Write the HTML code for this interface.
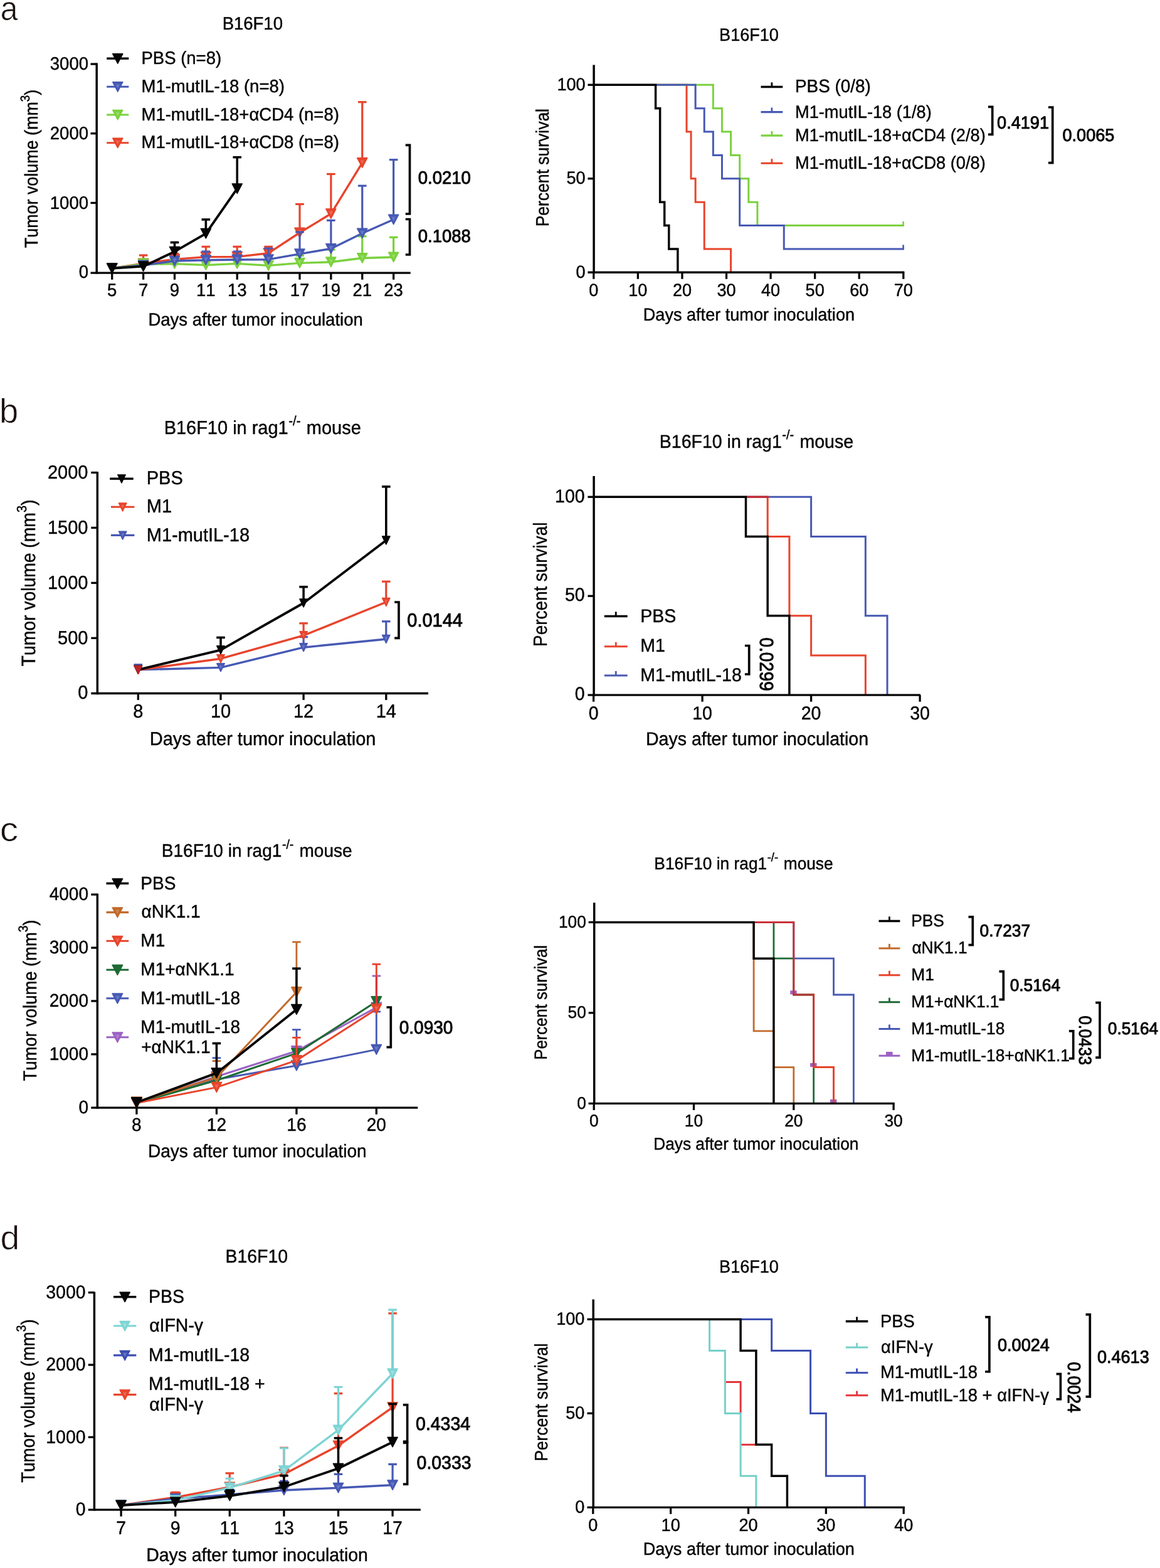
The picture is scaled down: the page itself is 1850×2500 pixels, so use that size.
<!DOCTYPE html>
<html lang="en">
<head>
<meta charset="utf-8">
<title>Figure: tumor volume and survival</title>
<style>
html,body{margin:0;padding:0;background:#fff;}
body{width:1850px;height:2500px;overflow:hidden;}
svg{display:block;}
svg text{font-family:"Liberation Sans", sans-serif;fill:#050505;font-kerning:none;font-variant-ligatures:none;text-rendering:geometricPrecision;}
</style>
</head>
<body>
<svg width="1850" height="2500" viewBox="0 0 1850 2500">
<rect x="0" y="0" width="1850" height="2500" fill="#ffffff"/>
<text transform="translate(0.4 31.8) scale(0.935 1)" font-size="54" text-anchor="start" style="fill:#1a1210" stroke="#ffffff" stroke-width="0.75" stroke-linejoin="miter" stroke-miterlimit="6">a</text>
<text transform="translate(-0.9 674.3) scale(0.995 1)" font-size="54.6" text-anchor="start" style="fill:#1a1210" stroke="#ffffff" stroke-width="0.75" stroke-linejoin="miter" stroke-miterlimit="6">b</text>
<text transform="translate(-0.2 1341.1) scale(1.09 1)" font-size="54" text-anchor="start" style="fill:#1a1210" stroke="#ffffff" stroke-width="0.75" stroke-linejoin="miter" stroke-miterlimit="6">c</text>
<text transform="translate(0.4 1991.9) scale(1.03 1)" font-size="53.6" text-anchor="start" style="fill:#1a1210" stroke="#ffffff" stroke-width="0.75" stroke-linejoin="miter" stroke-miterlimit="6">d</text>
<g id="aL">
<text transform="translate(402.8 46.5) scale(0.963 1)" font-size="28.56" text-anchor="middle" stroke="#050505" stroke-width="0.45" stroke-linejoin="round">B16F10</text>
<text transform="translate(60.2 269) rotate(-90) scale(0.915 1)" font-size="29.38" text-anchor="middle" stroke="#050505" stroke-width="0.45" stroke-linejoin="round">Tumor volume (mm<tspan font-size="20.56" dy="-13.22">3</tspan><tspan dy="13.22">)</tspan></text>
<text transform="translate(407.6 518.5) scale(0.963 1)" font-size="28.56" text-anchor="middle" stroke="#050505" stroke-width="0.45" stroke-linejoin="round">Days after tumor inoculation</text>
<text transform="translate(141 443.44) scale(0.963 1)" font-size="28.56" text-anchor="end" stroke="#050505" stroke-width="0.45" stroke-linejoin="round">0</text>
<text transform="translate(141 332.74) scale(0.963 1)" font-size="28.56" text-anchor="end" stroke="#050505" stroke-width="0.45" stroke-linejoin="round">1000</text>
<text transform="translate(141 222.04) scale(0.963 1)" font-size="28.56" text-anchor="end" stroke="#050505" stroke-width="0.45" stroke-linejoin="round">2000</text>
<text transform="translate(141 111.34) scale(0.963 1)" font-size="28.56" text-anchor="end" stroke="#050505" stroke-width="0.45" stroke-linejoin="round">3000</text>
<text transform="translate(178.7 471.8) scale(0.963 1)" font-size="28.56" text-anchor="middle" stroke="#050505" stroke-width="0.45" stroke-linejoin="round">5</text>
<text transform="translate(228.58 471.8) scale(0.963 1)" font-size="28.56" text-anchor="middle" stroke="#050505" stroke-width="0.45" stroke-linejoin="round">7</text>
<text transform="translate(278.46 471.8) scale(0.963 1)" font-size="28.56" text-anchor="middle" stroke="#050505" stroke-width="0.45" stroke-linejoin="round">9</text>
<text transform="translate(328.34 471.8) scale(0.963 1)" font-size="28.56" text-anchor="middle" stroke="#050505" stroke-width="0.45" stroke-linejoin="round">11</text>
<text transform="translate(378.22 471.8) scale(0.963 1)" font-size="28.56" text-anchor="middle" stroke="#050505" stroke-width="0.45" stroke-linejoin="round">13</text>
<text transform="translate(428.1 471.8) scale(0.963 1)" font-size="28.56" text-anchor="middle" stroke="#050505" stroke-width="0.45" stroke-linejoin="round">15</text>
<text transform="translate(477.98 471.8) scale(0.963 1)" font-size="28.56" text-anchor="middle" stroke="#050505" stroke-width="0.45" stroke-linejoin="round">17</text>
<text transform="translate(527.86 471.8) scale(0.963 1)" font-size="28.56" text-anchor="middle" stroke="#050505" stroke-width="0.45" stroke-linejoin="round">19</text>
<text transform="translate(577.74 471.8) scale(0.963 1)" font-size="28.56" text-anchor="middle" stroke="#050505" stroke-width="0.45" stroke-linejoin="round">21</text>
<text transform="translate(627.62 471.8) scale(0.963 1)" font-size="28.56" text-anchor="middle" stroke="#050505" stroke-width="0.45" stroke-linejoin="round">23</text>
<line x1="228.58" y1="420.2" x2="228.58" y2="407" stroke="#E8442C" stroke-width="3.2" stroke-linecap="butt"/>
<line x1="221.78" y1="407" x2="235.38" y2="407" stroke="#E8442C" stroke-width="3.2" stroke-linecap="butt"/>
<line x1="278.46" y1="413.4" x2="278.46" y2="404.5" stroke="#E8442C" stroke-width="3.2" stroke-linecap="butt"/>
<line x1="271.66" y1="404.5" x2="285.26" y2="404.5" stroke="#E8442C" stroke-width="3.2" stroke-linecap="butt"/>
<line x1="328.34" y1="409.6" x2="328.34" y2="393.3" stroke="#E8442C" stroke-width="3.2" stroke-linecap="butt"/>
<line x1="321.54" y1="393.3" x2="335.14" y2="393.3" stroke="#E8442C" stroke-width="3.2" stroke-linecap="butt"/>
<line x1="378.22" y1="409.4" x2="378.22" y2="393.3" stroke="#E8442C" stroke-width="3.2" stroke-linecap="butt"/>
<line x1="371.42" y1="393.3" x2="385.02" y2="393.3" stroke="#E8442C" stroke-width="3.2" stroke-linecap="butt"/>
<line x1="428.1" y1="403.7" x2="428.1" y2="393.3" stroke="#E8442C" stroke-width="3.2" stroke-linecap="butt"/>
<line x1="421.3" y1="393.3" x2="434.9" y2="393.3" stroke="#E8442C" stroke-width="3.2" stroke-linecap="butt"/>
<line x1="477.98" y1="371" x2="477.98" y2="325.5" stroke="#E8442C" stroke-width="3.2" stroke-linecap="butt"/>
<line x1="471.18" y1="325.5" x2="484.78" y2="325.5" stroke="#E8442C" stroke-width="3.2" stroke-linecap="butt"/>
<line x1="527.86" y1="340.8" x2="527.86" y2="277.5" stroke="#E8442C" stroke-width="3.2" stroke-linecap="butt"/>
<line x1="521.06" y1="277.5" x2="534.66" y2="277.5" stroke="#E8442C" stroke-width="3.2" stroke-linecap="butt"/>
<line x1="577.74" y1="259.6" x2="577.74" y2="162.7" stroke="#E8442C" stroke-width="3.2" stroke-linecap="butt"/>
<line x1="570.94" y1="162.7" x2="584.54" y2="162.7" stroke="#E8442C" stroke-width="3.2" stroke-linecap="butt"/>
<polyline points="178.7,427.8 228.58,420.2 278.46,413.4 328.34,409.6 378.22,409.4 428.1,403.7 477.98,371 527.86,340.8 577.74,259.6" fill="none" stroke="#E8442C" stroke-width="3.4" stroke-linejoin="round" stroke-linecap="butt"/>
<polygon points="170.7,420.06 186.7,420.06 178.7,435.42" fill="#E8442C" stroke="#E8442C" stroke-width="1.6" stroke-linejoin="round"/>
<polygon points="175.5,423.58 181.9,423.58 178.7,430.45" fill="#EE7059" opacity="0.8"/>
<polygon points="220.58,412.46 236.58,412.46 228.58,427.82" fill="#E8442C" stroke="#E8442C" stroke-width="1.6" stroke-linejoin="round"/>
<polygon points="225.38,415.98 231.78,415.98 228.58,422.85" fill="#EE7059" opacity="0.8"/>
<polygon points="270.46,405.66 286.46,405.66 278.46,421.02" fill="#E8442C" stroke="#E8442C" stroke-width="1.6" stroke-linejoin="round"/>
<polygon points="275.26,409.18 281.66,409.18 278.46,416.05" fill="#EE7059" opacity="0.8"/>
<polygon points="320.34,401.86 336.34,401.86 328.34,417.22" fill="#E8442C" stroke="#E8442C" stroke-width="1.6" stroke-linejoin="round"/>
<polygon points="325.14,405.38 331.54,405.38 328.34,412.25" fill="#EE7059" opacity="0.8"/>
<polygon points="370.22,401.66 386.22,401.66 378.22,417.02" fill="#E8442C" stroke="#E8442C" stroke-width="1.6" stroke-linejoin="round"/>
<polygon points="375.02,405.18 381.42,405.18 378.22,412.05" fill="#EE7059" opacity="0.8"/>
<polygon points="420.1,395.96 436.1,395.96 428.1,411.32" fill="#E8442C" stroke="#E8442C" stroke-width="1.6" stroke-linejoin="round"/>
<polygon points="424.9,399.48 431.3,399.48 428.1,406.35" fill="#EE7059" opacity="0.8"/>
<polygon points="469.98,363.26 485.98,363.26 477.98,378.62" fill="#E8442C" stroke="#E8442C" stroke-width="1.6" stroke-linejoin="round"/>
<polygon points="474.78,366.78 481.18,366.78 477.98,373.65" fill="#EE7059" opacity="0.8"/>
<polygon points="519.86,333.06 535.86,333.06 527.86,348.42" fill="#E8442C" stroke="#E8442C" stroke-width="1.6" stroke-linejoin="round"/>
<polygon points="524.66,336.58 531.06,336.58 527.86,343.45" fill="#EE7059" opacity="0.8"/>
<polygon points="569.74,251.86 585.74,251.86 577.74,267.22" fill="#E8442C" stroke="#E8442C" stroke-width="1.6" stroke-linejoin="round"/>
<polygon points="574.54,255.38 580.94,255.38 577.74,262.25" fill="#EE7059" opacity="0.8"/>
<line x1="228.58" y1="421.3" x2="228.58" y2="413" stroke="#7BD13E" stroke-width="3.2" stroke-linecap="butt"/>
<line x1="221.78" y1="413" x2="235.38" y2="413" stroke="#7BD13E" stroke-width="3.2" stroke-linecap="butt"/>
<line x1="477.98" y1="419.4" x2="477.98" y2="407.5" stroke="#7BD13E" stroke-width="3.2" stroke-linecap="butt"/>
<line x1="471.18" y1="407.5" x2="484.78" y2="407.5" stroke="#7BD13E" stroke-width="3.2" stroke-linecap="butt"/>
<line x1="527.86" y1="417.8" x2="527.86" y2="398" stroke="#7BD13E" stroke-width="3.2" stroke-linecap="butt"/>
<line x1="521.06" y1="398" x2="534.66" y2="398" stroke="#7BD13E" stroke-width="3.2" stroke-linecap="butt"/>
<line x1="577.74" y1="411.5" x2="577.74" y2="376.8" stroke="#7BD13E" stroke-width="3.2" stroke-linecap="butt"/>
<line x1="570.94" y1="376.8" x2="584.54" y2="376.8" stroke="#7BD13E" stroke-width="3.2" stroke-linecap="butt"/>
<line x1="627.62" y1="410" x2="627.62" y2="378.3" stroke="#7BD13E" stroke-width="3.2" stroke-linecap="butt"/>
<line x1="620.82" y1="378.3" x2="634.42" y2="378.3" stroke="#7BD13E" stroke-width="3.2" stroke-linecap="butt"/>
<polyline points="178.7,427.8 228.58,421.3 278.46,420.6 328.34,422.6 378.22,420.4 428.1,423.4 477.98,419.4 527.86,417.8 577.74,411.5 627.62,410" fill="none" stroke="#7BD13E" stroke-width="3.4" stroke-linejoin="round" stroke-linecap="butt"/>
<polygon points="170.7,420.06 186.7,420.06 178.7,435.42" fill="#7BD13E" stroke="#7BD13E" stroke-width="1.6" stroke-linejoin="round"/>
<polygon points="175.5,423.58 181.9,423.58 178.7,430.45" fill="#9BDD6C" opacity="0.8"/>
<polygon points="220.58,413.56 236.58,413.56 228.58,428.92" fill="#7BD13E" stroke="#7BD13E" stroke-width="1.6" stroke-linejoin="round"/>
<polygon points="225.38,417.08 231.78,417.08 228.58,423.95" fill="#9BDD6C" opacity="0.8"/>
<polygon points="270.46,412.86 286.46,412.86 278.46,428.22" fill="#7BD13E" stroke="#7BD13E" stroke-width="1.6" stroke-linejoin="round"/>
<polygon points="275.26,416.38 281.66,416.38 278.46,423.25" fill="#9BDD6C" opacity="0.8"/>
<polygon points="320.34,414.86 336.34,414.86 328.34,430.22" fill="#7BD13E" stroke="#7BD13E" stroke-width="1.6" stroke-linejoin="round"/>
<polygon points="325.14,418.38 331.54,418.38 328.34,425.25" fill="#9BDD6C" opacity="0.8"/>
<polygon points="370.22,412.66 386.22,412.66 378.22,428.02" fill="#7BD13E" stroke="#7BD13E" stroke-width="1.6" stroke-linejoin="round"/>
<polygon points="375.02,416.18 381.42,416.18 378.22,423.05" fill="#9BDD6C" opacity="0.8"/>
<polygon points="420.1,415.66 436.1,415.66 428.1,431.02" fill="#7BD13E" stroke="#7BD13E" stroke-width="1.6" stroke-linejoin="round"/>
<polygon points="424.9,419.18 431.3,419.18 428.1,426.05" fill="#9BDD6C" opacity="0.8"/>
<polygon points="469.98,411.66 485.98,411.66 477.98,427.02" fill="#7BD13E" stroke="#7BD13E" stroke-width="1.6" stroke-linejoin="round"/>
<polygon points="474.78,415.18 481.18,415.18 477.98,422.05" fill="#9BDD6C" opacity="0.8"/>
<polygon points="519.86,410.06 535.86,410.06 527.86,425.42" fill="#7BD13E" stroke="#7BD13E" stroke-width="1.6" stroke-linejoin="round"/>
<polygon points="524.66,413.58 531.06,413.58 527.86,420.45" fill="#9BDD6C" opacity="0.8"/>
<polygon points="569.74,403.76 585.74,403.76 577.74,419.12" fill="#7BD13E" stroke="#7BD13E" stroke-width="1.6" stroke-linejoin="round"/>
<polygon points="574.54,407.28 580.94,407.28 577.74,414.15" fill="#9BDD6C" opacity="0.8"/>
<polygon points="619.62,402.26 635.62,402.26 627.62,417.62" fill="#7BD13E" stroke="#7BD13E" stroke-width="1.6" stroke-linejoin="round"/>
<polygon points="624.42,405.78 630.82,405.78 627.62,412.65" fill="#9BDD6C" opacity="0.8"/>
<line x1="328.34" y1="414.7" x2="328.34" y2="401" stroke="#4759B4" stroke-width="3.2" stroke-linecap="butt"/>
<line x1="321.54" y1="401" x2="335.14" y2="401" stroke="#4759B4" stroke-width="3.2" stroke-linecap="butt"/>
<line x1="378.22" y1="414" x2="378.22" y2="401" stroke="#4759B4" stroke-width="3.2" stroke-linecap="butt"/>
<line x1="371.42" y1="401" x2="385.02" y2="401" stroke="#4759B4" stroke-width="3.2" stroke-linecap="butt"/>
<line x1="428.1" y1="413.7" x2="428.1" y2="396" stroke="#4759B4" stroke-width="3.2" stroke-linecap="butt"/>
<line x1="421.3" y1="396" x2="434.9" y2="396" stroke="#4759B4" stroke-width="3.2" stroke-linecap="butt"/>
<line x1="477.98" y1="404.8" x2="477.98" y2="370" stroke="#4759B4" stroke-width="3.2" stroke-linecap="butt"/>
<line x1="471.18" y1="370" x2="484.78" y2="370" stroke="#4759B4" stroke-width="3.2" stroke-linecap="butt"/>
<line x1="527.86" y1="396.5" x2="527.86" y2="351.4" stroke="#4759B4" stroke-width="3.2" stroke-linecap="butt"/>
<line x1="521.06" y1="351.4" x2="534.66" y2="351.4" stroke="#4759B4" stroke-width="3.2" stroke-linecap="butt"/>
<line x1="577.74" y1="372" x2="577.74" y2="296.2" stroke="#4759B4" stroke-width="3.2" stroke-linecap="butt"/>
<line x1="570.94" y1="296.2" x2="584.54" y2="296.2" stroke="#4759B4" stroke-width="3.2" stroke-linecap="butt"/>
<line x1="627.62" y1="350" x2="627.62" y2="254.7" stroke="#4759B4" stroke-width="3.2" stroke-linecap="butt"/>
<line x1="620.82" y1="254.7" x2="634.42" y2="254.7" stroke="#4759B4" stroke-width="3.2" stroke-linecap="butt"/>
<polyline points="178.7,427.8 228.58,423 278.46,416 328.34,414.7 378.22,414 428.1,413.7 477.98,404.8 527.86,396.5 577.74,372 627.62,350" fill="none" stroke="#4759B4" stroke-width="3.4" stroke-linejoin="round" stroke-linecap="butt"/>
<polygon points="170.7,420.06 186.7,420.06 178.7,435.42" fill="#4759B4" stroke="#4759B4" stroke-width="1.6" stroke-linejoin="round"/>
<polygon points="175.5,423.58 181.9,423.58 178.7,430.45" fill="#6F80C8" opacity="0.8"/>
<polygon points="220.58,415.26 236.58,415.26 228.58,430.62" fill="#4759B4" stroke="#4759B4" stroke-width="1.6" stroke-linejoin="round"/>
<polygon points="225.38,418.78 231.78,418.78 228.58,425.65" fill="#6F80C8" opacity="0.8"/>
<polygon points="270.46,408.26 286.46,408.26 278.46,423.62" fill="#4759B4" stroke="#4759B4" stroke-width="1.6" stroke-linejoin="round"/>
<polygon points="275.26,411.78 281.66,411.78 278.46,418.65" fill="#6F80C8" opacity="0.8"/>
<polygon points="320.34,406.96 336.34,406.96 328.34,422.32" fill="#4759B4" stroke="#4759B4" stroke-width="1.6" stroke-linejoin="round"/>
<polygon points="325.14,410.48 331.54,410.48 328.34,417.35" fill="#6F80C8" opacity="0.8"/>
<polygon points="370.22,406.26 386.22,406.26 378.22,421.62" fill="#4759B4" stroke="#4759B4" stroke-width="1.6" stroke-linejoin="round"/>
<polygon points="375.02,409.78 381.42,409.78 378.22,416.65" fill="#6F80C8" opacity="0.8"/>
<polygon points="420.1,405.96 436.1,405.96 428.1,421.32" fill="#4759B4" stroke="#4759B4" stroke-width="1.6" stroke-linejoin="round"/>
<polygon points="424.9,409.48 431.3,409.48 428.1,416.35" fill="#6F80C8" opacity="0.8"/>
<polygon points="469.98,397.06 485.98,397.06 477.98,412.42" fill="#4759B4" stroke="#4759B4" stroke-width="1.6" stroke-linejoin="round"/>
<polygon points="474.78,400.58 481.18,400.58 477.98,407.45" fill="#6F80C8" opacity="0.8"/>
<polygon points="519.86,388.76 535.86,388.76 527.86,404.12" fill="#4759B4" stroke="#4759B4" stroke-width="1.6" stroke-linejoin="round"/>
<polygon points="524.66,392.28 531.06,392.28 527.86,399.15" fill="#6F80C8" opacity="0.8"/>
<polygon points="569.74,364.26 585.74,364.26 577.74,379.62" fill="#4759B4" stroke="#4759B4" stroke-width="1.6" stroke-linejoin="round"/>
<polygon points="574.54,367.78 580.94,367.78 577.74,374.65" fill="#6F80C8" opacity="0.8"/>
<polygon points="619.62,342.26 635.62,342.26 627.62,357.62" fill="#4759B4" stroke="#4759B4" stroke-width="1.6" stroke-linejoin="round"/>
<polygon points="624.42,345.78 630.82,345.78 627.62,352.65" fill="#6F80C8" opacity="0.8"/>
<line x1="278.46" y1="401.2" x2="278.46" y2="386.5" stroke="#050505" stroke-width="3.6" stroke-linecap="butt"/>
<line x1="271.66" y1="386.5" x2="285.26" y2="386.5" stroke="#050505" stroke-width="3.6" stroke-linecap="butt"/>
<line x1="328.34" y1="372.3" x2="328.34" y2="350" stroke="#050505" stroke-width="3.6" stroke-linecap="butt"/>
<line x1="321.54" y1="350" x2="335.14" y2="350" stroke="#050505" stroke-width="3.6" stroke-linecap="butt"/>
<line x1="378.22" y1="300.7" x2="378.22" y2="250.7" stroke="#050505" stroke-width="3.6" stroke-linecap="butt"/>
<line x1="371.42" y1="250.7" x2="385.02" y2="250.7" stroke="#050505" stroke-width="3.6" stroke-linecap="butt"/>
<polyline points="178.7,427.8 228.58,424.7 278.46,401.2 328.34,372.3 378.22,300.7" fill="none" stroke="#050505" stroke-width="3.8" stroke-linejoin="round" stroke-linecap="butt"/>
<polygon points="170.7,420.06 186.7,420.06 178.7,435.42" fill="#050505" stroke="#050505" stroke-width="1.6" stroke-linejoin="round"/>
<polygon points="220.58,416.96 236.58,416.96 228.58,432.32" fill="#050505" stroke="#050505" stroke-width="1.6" stroke-linejoin="round"/>
<polygon points="270.46,393.46 286.46,393.46 278.46,408.82" fill="#050505" stroke="#050505" stroke-width="1.6" stroke-linejoin="round"/>
<polygon points="320.34,364.56 336.34,364.56 328.34,379.92" fill="#050505" stroke="#050505" stroke-width="1.6" stroke-linejoin="round"/>
<polygon points="370.22,292.96 386.22,292.96 378.22,308.32" fill="#050505" stroke="#050505" stroke-width="1.6" stroke-linejoin="round"/>
<line x1="154.2" y1="100.45" x2="154.2" y2="436.85" stroke="#050505" stroke-width="3.5" stroke-linecap="butt"/>
<line x1="144.5" y1="435.2" x2="654.7" y2="435.2" stroke="#050505" stroke-width="3.3" stroke-linecap="butt"/>
<line x1="144.5" y1="323.5" x2="154.2" y2="323.5" stroke="#050505" stroke-width="3.3" stroke-linecap="butt"/>
<line x1="144.5" y1="212.8" x2="154.2" y2="212.8" stroke="#050505" stroke-width="3.3" stroke-linecap="butt"/>
<line x1="144.5" y1="102.1" x2="154.2" y2="102.1" stroke="#050505" stroke-width="3.3" stroke-linecap="butt"/>
<line x1="178.7" y1="435.2" x2="178.7" y2="445.8" stroke="#050505" stroke-width="3.3" stroke-linecap="butt"/>
<line x1="228.58" y1="435.2" x2="228.58" y2="445.8" stroke="#050505" stroke-width="3.3" stroke-linecap="butt"/>
<line x1="278.46" y1="435.2" x2="278.46" y2="445.8" stroke="#050505" stroke-width="3.3" stroke-linecap="butt"/>
<line x1="328.34" y1="435.2" x2="328.34" y2="445.8" stroke="#050505" stroke-width="3.3" stroke-linecap="butt"/>
<line x1="378.22" y1="435.2" x2="378.22" y2="445.8" stroke="#050505" stroke-width="3.3" stroke-linecap="butt"/>
<line x1="428.1" y1="435.2" x2="428.1" y2="445.8" stroke="#050505" stroke-width="3.3" stroke-linecap="butt"/>
<line x1="477.98" y1="435.2" x2="477.98" y2="445.8" stroke="#050505" stroke-width="3.3" stroke-linecap="butt"/>
<line x1="527.86" y1="435.2" x2="527.86" y2="445.8" stroke="#050505" stroke-width="3.3" stroke-linecap="butt"/>
<line x1="577.74" y1="435.2" x2="577.74" y2="445.8" stroke="#050505" stroke-width="3.3" stroke-linecap="butt"/>
<line x1="627.62" y1="435.2" x2="627.62" y2="445.8" stroke="#050505" stroke-width="3.3" stroke-linecap="butt"/>
<line x1="170.2" y1="93.2" x2="205.3" y2="93.2" stroke="#050505" stroke-width="3.5" stroke-linecap="butt"/>
<polygon points="179.75,85.76 195.75,85.76 187.75,101.12" fill="#050505" stroke="#050505" stroke-width="1.6" stroke-linejoin="round"/>
<text transform="translate(225.5 101.8) scale(0.963 1)" font-size="28.56" text-anchor="start" stroke="#050505" stroke-width="0.45" stroke-linejoin="round">PBS (n=8)</text>
<line x1="170.2" y1="138.3" x2="205.3" y2="138.3" stroke="#4759B4" stroke-width="3.1" stroke-linecap="butt"/>
<polygon points="179.75,130.86 195.75,130.86 187.75,146.22" fill="#4759B4" stroke="#4759B4" stroke-width="1.6" stroke-linejoin="round"/>
<polygon points="184.55,134.38 190.95,134.38 187.75,141.25" fill="#6F80C8" opacity="0.8"/>
<text transform="translate(225.5 146.9) scale(0.963 1)" font-size="28.56" text-anchor="start" stroke="#050505" stroke-width="0.45" stroke-linejoin="round">M1-mutIL-18 (n=8)</text>
<line x1="170.2" y1="183" x2="205.3" y2="183" stroke="#7BD13E" stroke-width="3.1" stroke-linecap="butt"/>
<polygon points="179.75,175.56 195.75,175.56 187.75,190.92" fill="#7BD13E" stroke="#7BD13E" stroke-width="1.6" stroke-linejoin="round"/>
<polygon points="184.55,179.08 190.95,179.08 187.75,185.95" fill="#9BDD6C" opacity="0.8"/>
<text transform="translate(225.5 191.6) scale(0.963 1)" font-size="28.56" text-anchor="start" stroke="#050505" stroke-width="0.45" stroke-linejoin="round">M1-mutIL-18+αCD4 (n=8)</text>
<line x1="170.2" y1="227.8" x2="205.3" y2="227.8" stroke="#E8442C" stroke-width="3.1" stroke-linecap="butt"/>
<polygon points="179.75,220.36 195.75,220.36 187.75,235.72" fill="#E8442C" stroke="#E8442C" stroke-width="1.6" stroke-linejoin="round"/>
<polygon points="184.55,223.88 190.95,223.88 187.75,230.75" fill="#EE7059" opacity="0.8"/>
<text transform="translate(225.5 236.4) scale(0.963 1)" font-size="28.56" text-anchor="start" stroke="#050505" stroke-width="0.45" stroke-linejoin="round">M1-mutIL-18+αCD8 (n=8)</text>
<polyline points="646.7,231.4 653.5,231.4 653.5,341 646.7,341" fill="none" stroke="#050505" stroke-width="3.7" stroke-linejoin="miter" stroke-linecap="butt"/>
<polyline points="646.7,349.5 653.5,349.5 653.5,406 646.7,406" fill="none" stroke="#050505" stroke-width="3.7" stroke-linejoin="miter" stroke-linecap="butt"/>
<text transform="translate(666.8 293) scale(0.963 1)" font-size="28.56" text-anchor="start" stroke="#050505" stroke-width="0.95" stroke-linejoin="round">0.0210</text>
<text transform="translate(666.8 386.3) scale(0.963 1)" font-size="28.56" text-anchor="start" stroke="#050505" stroke-width="0.95" stroke-linejoin="round">0.1088</text>
</g>
<g id="aR">
<text transform="translate(1194.5 64.5) scale(0.963 1)" font-size="28.14" text-anchor="middle" stroke="#050505" stroke-width="0.45" stroke-linejoin="round">B16F10</text>
<text transform="translate(875.4 267.2) rotate(-90) scale(0.915 1)" font-size="28.94" text-anchor="middle" stroke="#050505" stroke-width="0.45" stroke-linejoin="round">Percent survival</text>
<text transform="translate(1194.4 510.9) scale(0.963 1)" font-size="28.14" text-anchor="middle" stroke="#050505" stroke-width="0.45" stroke-linejoin="round">Days after tumor inoculation</text>
<text transform="translate(933.6 442.64) scale(0.963 1)" font-size="28.14" text-anchor="end" stroke="#050505" stroke-width="0.45" stroke-linejoin="round">0</text>
<text transform="translate(933.6 293.17) scale(0.963 1)" font-size="28.14" text-anchor="end" stroke="#050505" stroke-width="0.45" stroke-linejoin="round">50</text>
<text transform="translate(933.6 143.69) scale(0.963 1)" font-size="28.14" text-anchor="end" stroke="#050505" stroke-width="0.45" stroke-linejoin="round">100</text>
<text transform="translate(946.8 472) scale(0.963 1)" font-size="28.14" text-anchor="middle" stroke="#050505" stroke-width="0.45" stroke-linejoin="round">0</text>
<text transform="translate(1017.37 472) scale(0.963 1)" font-size="28.14" text-anchor="middle" stroke="#050505" stroke-width="0.45" stroke-linejoin="round">10</text>
<text transform="translate(1087.94 472) scale(0.963 1)" font-size="28.14" text-anchor="middle" stroke="#050505" stroke-width="0.45" stroke-linejoin="round">20</text>
<text transform="translate(1158.51 472) scale(0.963 1)" font-size="28.14" text-anchor="middle" stroke="#050505" stroke-width="0.45" stroke-linejoin="round">30</text>
<text transform="translate(1229.08 472) scale(0.963 1)" font-size="28.14" text-anchor="middle" stroke="#050505" stroke-width="0.45" stroke-linejoin="round">40</text>
<text transform="translate(1299.65 472) scale(0.963 1)" font-size="28.14" text-anchor="middle" stroke="#050505" stroke-width="0.45" stroke-linejoin="round">50</text>
<text transform="translate(1370.22 472) scale(0.963 1)" font-size="28.14" text-anchor="middle" stroke="#050505" stroke-width="0.45" stroke-linejoin="round">60</text>
<text transform="translate(1440.79 472) scale(0.963 1)" font-size="28.14" text-anchor="middle" stroke="#050505" stroke-width="0.45" stroke-linejoin="round">70</text>
<polyline points="1047.72,135.3 1095,135.3 1095,210.04 1102.05,210.04 1102.05,284.77 1109.11,284.77 1109.11,322.14 1123.22,322.14 1123.22,396.88 1165.57,396.88 1165.57,434.25" fill="none" stroke="#E8442C" stroke-width="3" stroke-linejoin="miter" stroke-linecap="butt"/>
<polyline points="1047.72,135.3 1137.34,135.3 1137.34,172.67 1151.45,172.67 1151.45,210.04 1165.57,210.04 1165.57,247.41 1179.68,247.41 1179.68,284.77 1193.8,284.77 1193.8,322.14 1207.91,322.14 1207.91,359.51 1440.79,359.51" fill="none" stroke="#7BD13E" stroke-width="3" stroke-linejoin="miter" stroke-linecap="butt"/>
<line x1="1440.59" y1="361.01" x2="1440.59" y2="353.01" stroke="#7BD13E" stroke-width="2.6" stroke-linecap="butt"/>
<polyline points="1047.01,135.3 1109.11,135.3 1109.11,172.67 1123.22,172.67 1123.22,210.04 1137.34,210.04 1137.34,247.41 1151.45,247.41 1151.45,284.77 1179.68,284.77 1179.68,359.51 1250.25,359.51 1250.25,396.88 1440.79,396.88" fill="none" stroke="#4759B4" stroke-width="3" stroke-linejoin="miter" stroke-linecap="butt"/>
<line x1="1440.59" y1="398.38" x2="1440.59" y2="390.38" stroke="#4759B4" stroke-width="2.6" stroke-linecap="butt"/>
<polyline points="946.8,135.3 1045.6,135.3 1045.6,172.67 1052.65,172.67 1052.65,322.14 1059.71,322.14 1059.71,359.51 1066.77,359.51 1066.77,396.88 1080.88,396.88 1080.88,434.25" fill="none" stroke="#050505" stroke-width="3.5" stroke-linejoin="miter" stroke-linecap="butt"/>
<line x1="947.1" y1="103.55" x2="947.1" y2="435.9" stroke="#050505" stroke-width="3.5" stroke-linecap="butt"/>
<line x1="937.4" y1="434.25" x2="1442.3" y2="434.25" stroke="#050505" stroke-width="3.3" stroke-linecap="butt"/>
<line x1="937.4" y1="284.77" x2="947.1" y2="284.77" stroke="#050505" stroke-width="3.3" stroke-linecap="butt"/>
<line x1="937.4" y1="135.3" x2="947.1" y2="135.3" stroke="#050505" stroke-width="3.3" stroke-linecap="butt"/>
<line x1="946.8" y1="434.25" x2="946.8" y2="444.85" stroke="#050505" stroke-width="3.3" stroke-linecap="butt"/>
<line x1="1017.37" y1="434.25" x2="1017.37" y2="444.85" stroke="#050505" stroke-width="3.3" stroke-linecap="butt"/>
<line x1="1087.94" y1="434.25" x2="1087.94" y2="444.85" stroke="#050505" stroke-width="3.3" stroke-linecap="butt"/>
<line x1="1158.51" y1="434.25" x2="1158.51" y2="444.85" stroke="#050505" stroke-width="3.3" stroke-linecap="butt"/>
<line x1="1229.08" y1="434.25" x2="1229.08" y2="444.85" stroke="#050505" stroke-width="3.3" stroke-linecap="butt"/>
<line x1="1299.65" y1="434.25" x2="1299.65" y2="444.85" stroke="#050505" stroke-width="3.3" stroke-linecap="butt"/>
<line x1="1370.22" y1="434.25" x2="1370.22" y2="444.85" stroke="#050505" stroke-width="3.3" stroke-linecap="butt"/>
<line x1="1440.79" y1="434.25" x2="1440.79" y2="444.85" stroke="#050505" stroke-width="3.3" stroke-linecap="butt"/>
<line x1="1213.5" y1="138.6" x2="1248.3" y2="138.6" stroke="#050505" stroke-width="3.5" stroke-linecap="butt"/>
<line x1="1230.9" y1="138.6" x2="1230.9" y2="131.35" stroke="#050505" stroke-width="2.8" stroke-linecap="butt"/>
<text transform="translate(1268 147.4) scale(0.963 1)" font-size="28.93" text-anchor="start" stroke="#050505" stroke-width="0.45" stroke-linejoin="round">PBS (0/8)</text>
<line x1="1213.5" y1="178.6" x2="1248.3" y2="178.6" stroke="#4759B4" stroke-width="3.1" stroke-linecap="butt"/>
<line x1="1230.9" y1="178.6" x2="1230.9" y2="171.55" stroke="#4759B4" stroke-width="2.8" stroke-linecap="butt"/>
<text transform="translate(1268 187.7) scale(0.963 1)" font-size="28.25" text-anchor="start" stroke="#050505" stroke-width="0.45" stroke-linejoin="round">M1-mutIL-18 (1/8)</text>
<line x1="1213.5" y1="216.1" x2="1248.3" y2="216.1" stroke="#7BD13E" stroke-width="3.1" stroke-linecap="butt"/>
<line x1="1230.9" y1="216.1" x2="1230.9" y2="209.05" stroke="#7BD13E" stroke-width="2.8" stroke-linecap="butt"/>
<text transform="translate(1268 224.9) scale(0.963 1)" font-size="28.25" text-anchor="start" stroke="#050505" stroke-width="0.45" stroke-linejoin="round">M1-mutIL-18+αCD4 (2/8)</text>
<line x1="1213.5" y1="260.3" x2="1248.3" y2="260.3" stroke="#E8442C" stroke-width="3.1" stroke-linecap="butt"/>
<line x1="1230.9" y1="260.3" x2="1230.9" y2="253.25" stroke="#E8442C" stroke-width="2.8" stroke-linecap="butt"/>
<text transform="translate(1268 269.4) scale(0.963 1)" font-size="28.25" text-anchor="start" stroke="#050505" stroke-width="0.45" stroke-linejoin="round">M1-mutIL-18+αCD8 (0/8)</text>
<polyline points="1575.9,170.4 1582.7,170.4 1582.7,214.3 1575.9,214.3" fill="none" stroke="#050505" stroke-width="3.7" stroke-linejoin="miter" stroke-linecap="butt"/>
<text transform="translate(1590.1 204.9) scale(0.963 1)" font-size="28.14" text-anchor="start" stroke="#050505" stroke-width="0.95" stroke-linejoin="round">0.4191</text>
<polyline points="1671.9,171 1678.7,171 1678.7,259.7 1671.9,259.7" fill="none" stroke="#050505" stroke-width="3.7" stroke-linejoin="miter" stroke-linecap="butt"/>
<text transform="translate(1694.5 224.6) scale(0.963 1)" font-size="28.14" text-anchor="start" stroke="#050505" stroke-width="0.95" stroke-linejoin="round">0.0065</text>
</g>
<g id="bL">
<text transform="translate(418.7 692) scale(0.963 1)" font-size="30.08" text-anchor="middle" stroke="#050505" stroke-width="0.45" stroke-linejoin="round">B16F10 in rag1<tspan font-size="21.06" dy="-13.54" dx="0.6">-/-</tspan><tspan dy="13.54" dx="1.4"> mouse</tspan></text>
<text transform="translate(55.5 929.5) rotate(-90) scale(0.915 1)" font-size="30.94" text-anchor="middle" stroke="#050505" stroke-width="0.45" stroke-linejoin="round">Tumor volume (mm<tspan font-size="21.66" dy="-13.92">3</tspan><tspan dy="13.92">)</tspan></text>
<text transform="translate(419.1 1187.5) scale(0.963 1)" font-size="30.08" text-anchor="middle" stroke="#050505" stroke-width="0.45" stroke-linejoin="round">Days after tumor inoculation</text>
<text transform="translate(140.4 1114.46) scale(0.963 1)" font-size="30.08" text-anchor="end" stroke="#050505" stroke-width="0.45" stroke-linejoin="round">0</text>
<text transform="translate(140.4 1026.51) scale(0.963 1)" font-size="30.08" text-anchor="end" stroke="#050505" stroke-width="0.45" stroke-linejoin="round">500</text>
<text transform="translate(140.4 938.56) scale(0.963 1)" font-size="30.08" text-anchor="end" stroke="#050505" stroke-width="0.45" stroke-linejoin="round">1000</text>
<text transform="translate(140.4 850.61) scale(0.963 1)" font-size="30.08" text-anchor="end" stroke="#050505" stroke-width="0.45" stroke-linejoin="round">1500</text>
<text transform="translate(140.4 762.66) scale(0.963 1)" font-size="30.08" text-anchor="end" stroke="#050505" stroke-width="0.45" stroke-linejoin="round">2000</text>
<text transform="translate(220.3 1143.6) scale(0.963 1)" font-size="30.08" text-anchor="middle" stroke="#050505" stroke-width="0.45" stroke-linejoin="round">8</text>
<text transform="translate(352 1143.6) scale(0.963 1)" font-size="30.08" text-anchor="middle" stroke="#050505" stroke-width="0.45" stroke-linejoin="round">10</text>
<text transform="translate(484.1 1143.6) scale(0.963 1)" font-size="30.08" text-anchor="middle" stroke="#050505" stroke-width="0.45" stroke-linejoin="round">12</text>
<text transform="translate(615.8 1143.6) scale(0.963 1)" font-size="30.08" text-anchor="middle" stroke="#050505" stroke-width="0.45" stroke-linejoin="round">14</text>
<line x1="220.3" y1="1067.8" x2="220.3" y2="1059.8" stroke="#4759B4" stroke-width="3.2" stroke-linecap="butt"/>
<line x1="213.5" y1="1059.8" x2="227.1" y2="1059.8" stroke="#4759B4" stroke-width="3.2" stroke-linecap="butt"/>
<line x1="484.1" y1="1032.2" x2="484.1" y2="1015.6" stroke="#4759B4" stroke-width="3.2" stroke-linecap="butt"/>
<line x1="477.3" y1="1015.6" x2="490.9" y2="1015.6" stroke="#4759B4" stroke-width="3.2" stroke-linecap="butt"/>
<line x1="615.8" y1="1019" x2="615.8" y2="990.8" stroke="#4759B4" stroke-width="3.2" stroke-linecap="butt"/>
<line x1="609" y1="990.8" x2="622.6" y2="990.8" stroke="#4759B4" stroke-width="3.2" stroke-linecap="butt"/>
<polyline points="220.3,1067.8 352,1064.4 484.1,1032.2 615.8,1019" fill="none" stroke="#4759B4" stroke-width="3.4" stroke-linejoin="round" stroke-linecap="butt"/>
<polygon points="214.15,1061.28 226.45,1061.28 220.3,1074.14" fill="#4759B4" stroke="#4759B4" stroke-width="1.6" stroke-linejoin="round"/>
<polygon points="217.84,1064.3 222.76,1064.3 220.3,1070.19" fill="#6F80C8" opacity="0.8"/>
<polygon points="345.85,1057.88 358.15,1057.88 352,1070.74" fill="#4759B4" stroke="#4759B4" stroke-width="1.6" stroke-linejoin="round"/>
<polygon points="349.54,1060.9 354.46,1060.9 352,1066.79" fill="#6F80C8" opacity="0.8"/>
<polygon points="477.95,1025.68 490.25,1025.68 484.1,1038.54" fill="#4759B4" stroke="#4759B4" stroke-width="1.6" stroke-linejoin="round"/>
<polygon points="481.64,1028.7 486.56,1028.7 484.1,1034.59" fill="#6F80C8" opacity="0.8"/>
<polygon points="609.65,1012.48 621.95,1012.48 615.8,1025.34" fill="#4759B4" stroke="#4759B4" stroke-width="1.6" stroke-linejoin="round"/>
<polygon points="613.34,1015.5 618.26,1015.5 615.8,1021.39" fill="#6F80C8" opacity="0.8"/>
<line x1="484.1" y1="1013.2" x2="484.1" y2="993.8" stroke="#E8442C" stroke-width="3.2" stroke-linecap="butt"/>
<line x1="477.3" y1="993.8" x2="490.9" y2="993.8" stroke="#E8442C" stroke-width="3.2" stroke-linecap="butt"/>
<line x1="615.8" y1="960" x2="615.8" y2="927.2" stroke="#E8442C" stroke-width="3.2" stroke-linecap="butt"/>
<line x1="609" y1="927.2" x2="622.6" y2="927.2" stroke="#E8442C" stroke-width="3.2" stroke-linecap="butt"/>
<polyline points="220.3,1068 352,1050.2 484.1,1013.2 615.8,960" fill="none" stroke="#E8442C" stroke-width="3.4" stroke-linejoin="round" stroke-linecap="butt"/>
<polygon points="214.15,1061.48 226.45,1061.48 220.3,1074.34" fill="#E8442C" stroke="#E8442C" stroke-width="1.6" stroke-linejoin="round"/>
<polygon points="217.84,1064.5 222.76,1064.5 220.3,1070.39" fill="#EE7059" opacity="0.8"/>
<polygon points="345.85,1043.68 358.15,1043.68 352,1056.54" fill="#E8442C" stroke="#E8442C" stroke-width="1.6" stroke-linejoin="round"/>
<polygon points="349.54,1046.7 354.46,1046.7 352,1052.59" fill="#EE7059" opacity="0.8"/>
<polygon points="477.95,1006.68 490.25,1006.68 484.1,1019.54" fill="#E8442C" stroke="#E8442C" stroke-width="1.6" stroke-linejoin="round"/>
<polygon points="481.64,1009.7 486.56,1009.7 484.1,1015.59" fill="#EE7059" opacity="0.8"/>
<polygon points="609.65,953.48 621.95,953.48 615.8,966.34" fill="#E8442C" stroke="#E8442C" stroke-width="1.6" stroke-linejoin="round"/>
<polygon points="613.34,956.5 618.26,956.5 615.8,962.39" fill="#EE7059" opacity="0.8"/>
<line x1="352" y1="1036.3" x2="352" y2="1016.5" stroke="#050505" stroke-width="3.6" stroke-linecap="butt"/>
<line x1="345.2" y1="1016.5" x2="358.8" y2="1016.5" stroke="#050505" stroke-width="3.6" stroke-linecap="butt"/>
<line x1="484.1" y1="961.5" x2="484.1" y2="935.7" stroke="#050505" stroke-width="3.6" stroke-linecap="butt"/>
<line x1="477.3" y1="935.7" x2="490.9" y2="935.7" stroke="#050505" stroke-width="3.6" stroke-linecap="butt"/>
<line x1="615.8" y1="861.6" x2="615.8" y2="775.9" stroke="#050505" stroke-width="3.6" stroke-linecap="butt"/>
<line x1="609" y1="775.9" x2="622.6" y2="775.9" stroke="#050505" stroke-width="3.6" stroke-linecap="butt"/>
<polyline points="220.3,1067.8 352,1036.3 484.1,961.5 615.8,861.6" fill="none" stroke="#050505" stroke-width="3.8" stroke-linejoin="round" stroke-linecap="butt"/>
<polygon points="214.15,1061.28 226.45,1061.28 220.3,1074.14" fill="#050505" stroke="#050505" stroke-width="1.6" stroke-linejoin="round"/>
<polygon points="345.85,1029.78 358.15,1029.78 352,1042.64" fill="#050505" stroke="#050505" stroke-width="1.6" stroke-linejoin="round"/>
<polygon points="477.95,954.98 490.25,954.98 484.1,967.84" fill="#050505" stroke="#050505" stroke-width="1.6" stroke-linejoin="round"/>
<polygon points="609.65,855.08 621.95,855.08 615.8,867.94" fill="#050505" stroke="#050505" stroke-width="1.6" stroke-linejoin="round"/>
<polygon points="214.15,1061.48 226.45,1061.48 220.3,1074.34" fill="#B8252B" stroke="#B8252B" stroke-width="1.6" stroke-linejoin="round"/>
<line x1="155.3" y1="752.25" x2="155.3" y2="1107.15" stroke="#050505" stroke-width="3.5" stroke-linecap="butt"/>
<line x1="145.3" y1="1105.5" x2="683" y2="1105.5" stroke="#050505" stroke-width="3.3" stroke-linecap="butt"/>
<line x1="145.3" y1="1017.35" x2="155.3" y2="1017.35" stroke="#050505" stroke-width="3.3" stroke-linecap="butt"/>
<line x1="145.3" y1="929.4" x2="155.3" y2="929.4" stroke="#050505" stroke-width="3.3" stroke-linecap="butt"/>
<line x1="145.3" y1="841.45" x2="155.3" y2="841.45" stroke="#050505" stroke-width="3.3" stroke-linecap="butt"/>
<line x1="145.3" y1="753.5" x2="155.3" y2="753.5" stroke="#050505" stroke-width="3.3" stroke-linecap="butt"/>
<line x1="220.3" y1="1105.5" x2="220.3" y2="1116.1" stroke="#050505" stroke-width="3.3" stroke-linecap="butt"/>
<line x1="352" y1="1105.5" x2="352" y2="1116.1" stroke="#050505" stroke-width="3.3" stroke-linecap="butt"/>
<line x1="484.1" y1="1105.5" x2="484.1" y2="1116.1" stroke="#050505" stroke-width="3.3" stroke-linecap="butt"/>
<line x1="615.8" y1="1105.5" x2="615.8" y2="1116.1" stroke="#050505" stroke-width="3.3" stroke-linecap="butt"/>
<line x1="175.2" y1="763.2" x2="212.7" y2="763.2" stroke="#050505" stroke-width="3.5" stroke-linecap="butt"/>
<polygon points="187.8,756.98 200.1,756.98 193.95,769.84" fill="#050505" stroke="#050505" stroke-width="1.6" stroke-linejoin="round"/>
<text transform="translate(233.8 772.2) scale(0.963 1)" font-size="30.08" text-anchor="start" stroke="#050505" stroke-width="0.45" stroke-linejoin="round">PBS</text>
<line x1="176.9" y1="808.3" x2="214.4" y2="808.3" stroke="#E8442C" stroke-width="3.1" stroke-linecap="butt"/>
<polygon points="189.5,802.08 201.8,802.08 195.65,814.94" fill="#E8442C" stroke="#E8442C" stroke-width="1.6" stroke-linejoin="round"/>
<polygon points="193.19,805.1 198.11,805.1 195.65,810.99" fill="#EE7059" opacity="0.8"/>
<text transform="translate(233.8 817.3) scale(0.963 1)" font-size="30.08" text-anchor="start" stroke="#050505" stroke-width="0.45" stroke-linejoin="round">M1</text>
<line x1="176.9" y1="853.4" x2="214.4" y2="853.4" stroke="#4759B4" stroke-width="3.1" stroke-linecap="butt"/>
<polygon points="189.5,847.18 201.8,847.18 195.65,860.04" fill="#4759B4" stroke="#4759B4" stroke-width="1.6" stroke-linejoin="round"/>
<polygon points="193.19,850.2 198.11,850.2 195.65,856.09" fill="#6F80C8" opacity="0.8"/>
<text transform="translate(233.8 862.7) scale(0.963 1)" font-size="30.08" text-anchor="start" stroke="#050505" stroke-width="0.45" stroke-linejoin="round">M1-mutIL-18</text>
<polyline points="629.2,960 636,960 636,1017.4 629.2,1017.4" fill="none" stroke="#050505" stroke-width="3.7" stroke-linejoin="miter" stroke-linecap="butt"/>
<text transform="translate(649.3 999.3) scale(0.963 1)" font-size="30.08" text-anchor="start" stroke="#050505" stroke-width="0.95" stroke-linejoin="round">0.0144</text>
</g>
<g id="bR">
<text transform="translate(1206.4 713.6) scale(0.963 1)" font-size="29.61" text-anchor="middle" stroke="#050505" stroke-width="0.45" stroke-linejoin="round">B16F10 in rag1<tspan font-size="20.73" dy="-13.32" dx="0.6">-/-</tspan><tspan dy="13.32" dx="1.4"> mouse</tspan></text>
<text transform="translate(871.5 931.8) rotate(-90) scale(0.915 1)" font-size="30.46" text-anchor="middle" stroke="#050505" stroke-width="0.45" stroke-linejoin="round">Percent survival</text>
<text transform="translate(1207.5 1187.5) scale(0.963 1)" font-size="29.61" text-anchor="middle" stroke="#050505" stroke-width="0.45" stroke-linejoin="round">Days after tumor inoculation</text>
<text transform="translate(932.7 1116.4) scale(0.963 1)" font-size="29.61" text-anchor="end" stroke="#050505" stroke-width="0.45" stroke-linejoin="round">0</text>
<text transform="translate(932.7 958.45) scale(0.963 1)" font-size="29.61" text-anchor="end" stroke="#050505" stroke-width="0.45" stroke-linejoin="round">50</text>
<text transform="translate(932.7 800.5) scale(0.963 1)" font-size="29.61" text-anchor="end" stroke="#050505" stroke-width="0.45" stroke-linejoin="round">100</text>
<text transform="translate(946.6 1146.7) scale(0.963 1)" font-size="29.61" text-anchor="middle" stroke="#050505" stroke-width="0.45" stroke-linejoin="round">0</text>
<text transform="translate(1120.1 1146.7) scale(0.963 1)" font-size="29.61" text-anchor="middle" stroke="#050505" stroke-width="0.45" stroke-linejoin="round">10</text>
<text transform="translate(1293.6 1146.7) scale(0.963 1)" font-size="29.61" text-anchor="middle" stroke="#050505" stroke-width="0.45" stroke-linejoin="round">20</text>
<text transform="translate(1467.1 1146.7) scale(0.963 1)" font-size="29.61" text-anchor="middle" stroke="#050505" stroke-width="0.45" stroke-linejoin="round">30</text>
<polyline points="1191.24,792.3 1293.6,792.3 1293.6,855.48 1380.35,855.48 1380.35,981.84 1415.05,981.84 1415.05,1108.2" fill="none" stroke="#4759B4" stroke-width="3" stroke-linejoin="miter" stroke-linecap="butt"/>
<polyline points="1191.24,792.3 1224.2,792.3 1224.2,855.48 1258.9,855.48 1258.9,981.84 1293.6,981.84 1293.6,1045.02 1380.35,1045.02 1380.35,1108.2" fill="none" stroke="#E8442C" stroke-width="3" stroke-linejoin="miter" stroke-linecap="butt"/>
<line x1="1189.5" y1="792.3" x2="1225.7" y2="792.3" stroke="#C02A33" stroke-width="3" stroke-linecap="butt"/>
<polyline points="946.6,792.3 1189.5,792.3 1189.5,855.48 1224.2,855.48 1224.2,981.84 1258.9,981.84 1258.9,1108.2" fill="none" stroke="#050505" stroke-width="3.5" stroke-linejoin="miter" stroke-linecap="butt"/>
<line x1="947.1" y1="759.05" x2="947.1" y2="1109.85" stroke="#050505" stroke-width="3.5" stroke-linecap="butt"/>
<line x1="937.4" y1="1108.2" x2="1467.9" y2="1108.2" stroke="#050505" stroke-width="3.3" stroke-linecap="butt"/>
<line x1="937.4" y1="950.25" x2="947.1" y2="950.25" stroke="#050505" stroke-width="3.3" stroke-linecap="butt"/>
<line x1="937.4" y1="792.3" x2="947.1" y2="792.3" stroke="#050505" stroke-width="3.3" stroke-linecap="butt"/>
<line x1="946.6" y1="1108.2" x2="946.6" y2="1118.8" stroke="#050505" stroke-width="3.3" stroke-linecap="butt"/>
<line x1="1120.1" y1="1108.2" x2="1120.1" y2="1118.8" stroke="#050505" stroke-width="3.3" stroke-linecap="butt"/>
<line x1="1293.6" y1="1108.2" x2="1293.6" y2="1118.8" stroke="#050505" stroke-width="3.3" stroke-linecap="butt"/>
<line x1="1467.1" y1="1108.2" x2="1467.1" y2="1118.8" stroke="#050505" stroke-width="3.3" stroke-linecap="butt"/>
<line x1="963.8" y1="982.6" x2="1000.7" y2="982.6" stroke="#050505" stroke-width="3.5" stroke-linecap="butt"/>
<line x1="982.25" y1="982.6" x2="982.25" y2="975.35" stroke="#050505" stroke-width="2.8" stroke-linecap="butt"/>
<text transform="translate(1021.2 991.7) scale(0.963 1)" font-size="29.61" text-anchor="start" stroke="#050505" stroke-width="0.45" stroke-linejoin="round">PBS</text>
<line x1="963.8" y1="1030.8" x2="1000.7" y2="1030.8" stroke="#E8442C" stroke-width="3.1" stroke-linecap="butt"/>
<line x1="982.25" y1="1030.8" x2="982.25" y2="1023.75" stroke="#E8442C" stroke-width="2.8" stroke-linecap="butt"/>
<text transform="translate(1021.2 1039.2) scale(0.963 1)" font-size="29.61" text-anchor="start" stroke="#050505" stroke-width="0.45" stroke-linejoin="round">M1</text>
<line x1="963.8" y1="1077" x2="1000.7" y2="1077" stroke="#4759B4" stroke-width="3.1" stroke-linecap="butt"/>
<line x1="982.25" y1="1077" x2="982.25" y2="1069.95" stroke="#4759B4" stroke-width="2.8" stroke-linecap="butt"/>
<text transform="translate(1021.2 1085.5) scale(0.963 1)" font-size="29.61" text-anchor="start" stroke="#050505" stroke-width="0.45" stroke-linejoin="round">M1-mutIL-18</text>
<polyline points="1187.9,1029.5 1194.7,1029.5 1194.7,1075 1187.9,1075" fill="none" stroke="#050505" stroke-width="3.7" stroke-linejoin="miter" stroke-linecap="butt"/>
<text transform="translate(1212 1016.4) rotate(90) scale(0.915 1)" font-size="30.46" text-anchor="start" stroke="#050505" stroke-width="0.95" stroke-linejoin="round">0.0299</text>
</g>
<g id="cL">
<text transform="translate(409.7 1366.3) scale(0.963 1)" font-size="29.09" text-anchor="middle" stroke="#050505" stroke-width="0.45" stroke-linejoin="round">B16F10 in rag1<tspan font-size="20.36" dy="-13.09" dx="0.6">-/-</tspan><tspan dy="13.09" dx="1.4"> mouse</tspan></text>
<text transform="translate(57.5 1595) rotate(-90) scale(0.915 1)" font-size="29.92" text-anchor="middle" stroke="#050505" stroke-width="0.45" stroke-linejoin="round">Tumor volume (mm<tspan font-size="20.94" dy="-13.46">3</tspan><tspan dy="13.46">)</tspan></text>
<text transform="translate(410.3 1845.1) scale(0.963 1)" font-size="29.09" text-anchor="middle" stroke="#050505" stroke-width="0.45" stroke-linejoin="round">Days after tumor inoculation</text>
<text transform="translate(141 1774.62) scale(0.963 1)" font-size="29.09" text-anchor="end" stroke="#050505" stroke-width="0.45" stroke-linejoin="round">0</text>
<text transform="translate(141 1689.72) scale(0.963 1)" font-size="29.09" text-anchor="end" stroke="#050505" stroke-width="0.45" stroke-linejoin="round">1000</text>
<text transform="translate(141 1604.82) scale(0.963 1)" font-size="29.09" text-anchor="end" stroke="#050505" stroke-width="0.45" stroke-linejoin="round">2000</text>
<text transform="translate(141 1519.92) scale(0.963 1)" font-size="29.09" text-anchor="end" stroke="#050505" stroke-width="0.45" stroke-linejoin="round">3000</text>
<text transform="translate(141 1435.02) scale(0.963 1)" font-size="29.09" text-anchor="end" stroke="#050505" stroke-width="0.45" stroke-linejoin="round">4000</text>
<text transform="translate(217.9 1802.7) scale(0.963 1)" font-size="29.09" text-anchor="middle" stroke="#050505" stroke-width="0.45" stroke-linejoin="round">8</text>
<text transform="translate(345.4 1802.7) scale(0.963 1)" font-size="29.09" text-anchor="middle" stroke="#050505" stroke-width="0.45" stroke-linejoin="round">12</text>
<text transform="translate(472.9 1802.7) scale(0.963 1)" font-size="29.09" text-anchor="middle" stroke="#050505" stroke-width="0.45" stroke-linejoin="round">16</text>
<text transform="translate(600.3 1802.7) scale(0.963 1)" font-size="29.09" text-anchor="middle" stroke="#050505" stroke-width="0.45" stroke-linejoin="round">20</text>
<line x1="472.9" y1="1675.8" x2="472.9" y2="1670.5" stroke="#9B62C4" stroke-width="2.8" stroke-linecap="butt"/>
<line x1="466.1" y1="1670.5" x2="479.7" y2="1670.5" stroke="#9B62C4" stroke-width="2.8" stroke-linecap="butt"/>
<line x1="600.3" y1="1606.3" x2="600.3" y2="1556" stroke="#9B62C4" stroke-width="2.8" stroke-linecap="butt"/>
<line x1="593.5" y1="1556" x2="607.1" y2="1556" stroke="#9B62C4" stroke-width="2.8" stroke-linecap="butt"/>
<polyline points="217.9,1758.6 345.4,1716.5 472.9,1675.8 600.3,1606.3" fill="none" stroke="#9B62C4" stroke-width="3" stroke-linejoin="round" stroke-linecap="butt"/>
<polygon points="209.7,1750.67 226.1,1750.67 217.9,1766.43" fill="#9B62C4" stroke="#9B62C4" stroke-width="1.6" stroke-linejoin="round"/>
<polygon points="214.62,1754.27 221.18,1754.27 217.9,1761.29" fill="#B287D3" opacity="0.8"/>
<polygon points="337.2,1708.57 353.6,1708.57 345.4,1724.33" fill="#9B62C4" stroke="#9B62C4" stroke-width="1.6" stroke-linejoin="round"/>
<polygon points="342.12,1712.17 348.68,1712.17 345.4,1719.19" fill="#B287D3" opacity="0.8"/>
<polygon points="464.7,1667.87 481.1,1667.87 472.9,1683.63" fill="#9B62C4" stroke="#9B62C4" stroke-width="1.6" stroke-linejoin="round"/>
<polygon points="469.62,1671.47 476.18,1671.47 472.9,1678.49" fill="#B287D3" opacity="0.8"/>
<polygon points="592.1,1598.37 608.5,1598.37 600.3,1614.13" fill="#9B62C4" stroke="#9B62C4" stroke-width="1.6" stroke-linejoin="round"/>
<polygon points="597.02,1601.97 603.58,1601.97 600.3,1608.99" fill="#B287D3" opacity="0.8"/>
<line x1="345.4" y1="1721" x2="345.4" y2="1686.8" stroke="#4759B4" stroke-width="2.8" stroke-linecap="butt"/>
<line x1="338.6" y1="1686.8" x2="352.2" y2="1686.8" stroke="#4759B4" stroke-width="2.8" stroke-linecap="butt"/>
<line x1="472.9" y1="1699" x2="472.9" y2="1641.7" stroke="#4759B4" stroke-width="2.8" stroke-linecap="butt"/>
<line x1="466.1" y1="1641.7" x2="479.7" y2="1641.7" stroke="#4759B4" stroke-width="2.8" stroke-linecap="butt"/>
<line x1="600.3" y1="1673.4" x2="600.3" y2="1613" stroke="#4759B4" stroke-width="2.8" stroke-linecap="butt"/>
<line x1="593.5" y1="1613" x2="607.1" y2="1613" stroke="#4759B4" stroke-width="2.8" stroke-linecap="butt"/>
<polyline points="217.9,1758.6 345.4,1721 472.9,1699 600.3,1673.4" fill="none" stroke="#4759B4" stroke-width="3" stroke-linejoin="round" stroke-linecap="butt"/>
<polygon points="209.7,1750.67 226.1,1750.67 217.9,1766.43" fill="#4759B4" stroke="#4759B4" stroke-width="1.6" stroke-linejoin="round"/>
<polygon points="214.62,1754.27 221.18,1754.27 217.9,1761.29" fill="#6F80C8" opacity="0.8"/>
<polygon points="337.2,1713.07 353.6,1713.07 345.4,1728.83" fill="#4759B4" stroke="#4759B4" stroke-width="1.6" stroke-linejoin="round"/>
<polygon points="342.12,1716.67 348.68,1716.67 345.4,1723.69" fill="#6F80C8" opacity="0.8"/>
<polygon points="464.7,1691.07 481.1,1691.07 472.9,1706.83" fill="#4759B4" stroke="#4759B4" stroke-width="1.6" stroke-linejoin="round"/>
<polygon points="469.62,1694.67 476.18,1694.67 472.9,1701.69" fill="#6F80C8" opacity="0.8"/>
<polygon points="592.1,1665.47 608.5,1665.47 600.3,1681.23" fill="#4759B4" stroke="#4759B4" stroke-width="1.6" stroke-linejoin="round"/>
<polygon points="597.02,1669.07 603.58,1669.07 600.3,1676.09" fill="#6F80C8" opacity="0.8"/>
<polyline points="217.9,1758.6 345.4,1722.5 472.9,1679.4 600.3,1596.8" fill="none" stroke="#1E6A35" stroke-width="3" stroke-linejoin="round" stroke-linecap="butt"/>
<polygon points="209.7,1750.67 226.1,1750.67 217.9,1766.43" fill="#1E6A35" stroke="#1E6A35" stroke-width="1.6" stroke-linejoin="round"/>
<polygon points="337.2,1714.57 353.6,1714.57 345.4,1730.33" fill="#1E6A35" stroke="#1E6A35" stroke-width="1.6" stroke-linejoin="round"/>
<polygon points="464.7,1671.47 481.1,1671.47 472.9,1687.23" fill="#1E6A35" stroke="#1E6A35" stroke-width="1.6" stroke-linejoin="round"/>
<polygon points="592.1,1588.87 608.5,1588.87 600.3,1604.63" fill="#1E6A35" stroke="#1E6A35" stroke-width="1.6" stroke-linejoin="round"/>
<line x1="472.9" y1="1690.7" x2="472.9" y2="1654.4" stroke="#E8442C" stroke-width="2.8" stroke-linecap="butt"/>
<line x1="466.1" y1="1654.4" x2="479.7" y2="1654.4" stroke="#E8442C" stroke-width="2.8" stroke-linecap="butt"/>
<line x1="600.3" y1="1608.9" x2="600.3" y2="1537.3" stroke="#E8442C" stroke-width="2.8" stroke-linecap="butt"/>
<line x1="593.5" y1="1537.3" x2="607.1" y2="1537.3" stroke="#E8442C" stroke-width="2.8" stroke-linecap="butt"/>
<polyline points="217.9,1758.6 345.4,1733.6 472.9,1690.7 600.3,1608.9" fill="none" stroke="#E8442C" stroke-width="3" stroke-linejoin="round" stroke-linecap="butt"/>
<polygon points="209.7,1750.67 226.1,1750.67 217.9,1766.43" fill="#E8442C" stroke="#E8442C" stroke-width="1.6" stroke-linejoin="round"/>
<polygon points="214.62,1754.27 221.18,1754.27 217.9,1761.29" fill="#EE7059" opacity="0.8"/>
<polygon points="337.2,1725.67 353.6,1725.67 345.4,1741.43" fill="#E8442C" stroke="#E8442C" stroke-width="1.6" stroke-linejoin="round"/>
<polygon points="342.12,1729.27 348.68,1729.27 345.4,1736.29" fill="#EE7059" opacity="0.8"/>
<polygon points="464.7,1682.77 481.1,1682.77 472.9,1698.53" fill="#E8442C" stroke="#E8442C" stroke-width="1.6" stroke-linejoin="round"/>
<polygon points="469.62,1686.37 476.18,1686.37 472.9,1693.39" fill="#EE7059" opacity="0.8"/>
<polygon points="592.1,1600.97 608.5,1600.97 600.3,1616.73" fill="#E8442C" stroke="#E8442C" stroke-width="1.6" stroke-linejoin="round"/>
<polygon points="597.02,1604.57 603.58,1604.57 600.3,1611.59" fill="#EE7059" opacity="0.8"/>
<line x1="600.3" y1="1557.5" x2="600.3" y2="1598" stroke="#D8323A" stroke-width="2.9" stroke-linecap="butt"/>
<line x1="345.4" y1="1718" x2="345.4" y2="1691.6" stroke="#C26A2A" stroke-width="2.8" stroke-linecap="butt"/>
<line x1="338.6" y1="1691.6" x2="352.2" y2="1691.6" stroke="#C26A2A" stroke-width="2.8" stroke-linecap="butt"/>
<line x1="472.9" y1="1581.8" x2="472.9" y2="1501.9" stroke="#C26A2A" stroke-width="2.8" stroke-linecap="butt"/>
<line x1="466.1" y1="1501.9" x2="479.7" y2="1501.9" stroke="#C26A2A" stroke-width="2.8" stroke-linecap="butt"/>
<polyline points="217.9,1757 345.4,1718 472.9,1581.8" fill="none" stroke="#C26A2A" stroke-width="3" stroke-linejoin="round" stroke-linecap="butt"/>
<polygon points="209.7,1749.07 226.1,1749.07 217.9,1764.83" fill="#C26A2A" stroke="#C26A2A" stroke-width="1.6" stroke-linejoin="round"/>
<polygon points="214.62,1752.67 221.18,1752.67 217.9,1759.69" fill="#D08A55" opacity="0.8"/>
<polygon points="337.2,1710.07 353.6,1710.07 345.4,1725.83" fill="#C26A2A" stroke="#C26A2A" stroke-width="1.6" stroke-linejoin="round"/>
<polygon points="342.12,1713.67 348.68,1713.67 345.4,1720.69" fill="#D08A55" opacity="0.8"/>
<polygon points="464.7,1573.87 481.1,1573.87 472.9,1589.63" fill="#C26A2A" stroke="#C26A2A" stroke-width="1.6" stroke-linejoin="round"/>
<polygon points="469.62,1577.47 476.18,1577.47 472.9,1584.49" fill="#D08A55" opacity="0.8"/>
<line x1="345.4" y1="1710.9" x2="345.4" y2="1663.5" stroke="#050505" stroke-width="3.6" stroke-linecap="butt"/>
<line x1="338.6" y1="1663.5" x2="352.2" y2="1663.5" stroke="#050505" stroke-width="3.6" stroke-linecap="butt"/>
<line x1="472.9" y1="1609.5" x2="472.9" y2="1544.2" stroke="#050505" stroke-width="3.6" stroke-linecap="butt"/>
<line x1="466.1" y1="1544.2" x2="479.7" y2="1544.2" stroke="#050505" stroke-width="3.6" stroke-linecap="butt"/>
<polyline points="217.9,1757.8 345.4,1710.9 472.9,1609.5" fill="none" stroke="#050505" stroke-width="3.8" stroke-linejoin="round" stroke-linecap="butt"/>
<polygon points="209.7,1749.87 226.1,1749.87 217.9,1765.63" fill="#050505" stroke="#050505" stroke-width="1.6" stroke-linejoin="round"/>
<polygon points="337.2,1702.97 353.6,1702.97 345.4,1718.73" fill="#050505" stroke="#050505" stroke-width="1.6" stroke-linejoin="round"/>
<polygon points="464.7,1601.57 481.1,1601.57 472.9,1617.33" fill="#050505" stroke="#050505" stroke-width="1.6" stroke-linejoin="round"/>
<line x1="155.3" y1="1424.85" x2="155.3" y2="1767.85" stroke="#050505" stroke-width="3.5" stroke-linecap="butt"/>
<line x1="145.3" y1="1766.2" x2="666.3" y2="1766.2" stroke="#050505" stroke-width="3.3" stroke-linecap="butt"/>
<line x1="145.3" y1="1680.9" x2="155.3" y2="1680.9" stroke="#050505" stroke-width="3.3" stroke-linecap="butt"/>
<line x1="145.3" y1="1596" x2="155.3" y2="1596" stroke="#050505" stroke-width="3.3" stroke-linecap="butt"/>
<line x1="145.3" y1="1511.1" x2="155.3" y2="1511.1" stroke="#050505" stroke-width="3.3" stroke-linecap="butt"/>
<line x1="145.3" y1="1426.2" x2="155.3" y2="1426.2" stroke="#050505" stroke-width="3.3" stroke-linecap="butt"/>
<line x1="217.9" y1="1766.2" x2="217.9" y2="1776.8" stroke="#050505" stroke-width="3.3" stroke-linecap="butt"/>
<line x1="345.4" y1="1766.2" x2="345.4" y2="1776.8" stroke="#050505" stroke-width="3.3" stroke-linecap="butt"/>
<line x1="472.9" y1="1766.2" x2="472.9" y2="1776.8" stroke="#050505" stroke-width="3.3" stroke-linecap="butt"/>
<line x1="600.3" y1="1766.2" x2="600.3" y2="1776.8" stroke="#050505" stroke-width="3.3" stroke-linecap="butt"/>
<line x1="169.5" y1="1408.6" x2="205.2" y2="1408.6" stroke="#050505" stroke-width="3.5" stroke-linecap="butt"/>
<polygon points="179.15,1400.97 195.55,1400.97 187.35,1416.73" fill="#050505" stroke="#050505" stroke-width="1.6" stroke-linejoin="round"/>
<text transform="translate(224.3 1417.7) scale(0.963 1)" font-size="29.09" text-anchor="start" stroke="#050505" stroke-width="0.45" stroke-linejoin="round">PBS</text>
<line x1="169.5" y1="1454.6" x2="205.2" y2="1454.6" stroke="#C26A2A" stroke-width="3.1" stroke-linecap="butt"/>
<polygon points="179.15,1446.97 195.55,1446.97 187.35,1462.73" fill="#C26A2A" stroke="#C26A2A" stroke-width="1.6" stroke-linejoin="round"/>
<polygon points="184.07,1450.57 190.63,1450.57 187.35,1457.59" fill="#D08A55" opacity="0.8"/>
<text transform="translate(225.6 1463.4) scale(0.963 1)" font-size="29.09" text-anchor="start" stroke="#050505" stroke-width="0.45" stroke-linejoin="round">αNK1.1</text>
<line x1="169.5" y1="1500.3" x2="205.2" y2="1500.3" stroke="#E8442C" stroke-width="3.1" stroke-linecap="butt"/>
<polygon points="179.15,1492.67 195.55,1492.67 187.35,1508.43" fill="#E8442C" stroke="#E8442C" stroke-width="1.6" stroke-linejoin="round"/>
<polygon points="184.07,1496.27 190.63,1496.27 187.35,1503.29" fill="#EE7059" opacity="0.8"/>
<text transform="translate(224.3 1509.1) scale(0.963 1)" font-size="29.09" text-anchor="start" stroke="#050505" stroke-width="0.45" stroke-linejoin="round">M1</text>
<line x1="169.5" y1="1546.3" x2="205.2" y2="1546.3" stroke="#1E6A35" stroke-width="3.1" stroke-linecap="butt"/>
<polygon points="179.15,1538.67 195.55,1538.67 187.35,1554.43" fill="#1E6A35" stroke="#1E6A35" stroke-width="1.6" stroke-linejoin="round"/>
<text transform="translate(224.3 1555.1) scale(0.963 1)" font-size="29.09" text-anchor="start" stroke="#050505" stroke-width="0.45" stroke-linejoin="round">M1+αNK1.1</text>
<line x1="169.5" y1="1591.7" x2="205.2" y2="1591.7" stroke="#4759B4" stroke-width="3.1" stroke-linecap="butt"/>
<polygon points="179.15,1584.07 195.55,1584.07 187.35,1599.83" fill="#4759B4" stroke="#4759B4" stroke-width="1.6" stroke-linejoin="round"/>
<polygon points="184.07,1587.67 190.63,1587.67 187.35,1594.69" fill="#6F80C8" opacity="0.8"/>
<text transform="translate(224.3 1600.8) scale(0.963 1)" font-size="29.09" text-anchor="start" stroke="#050505" stroke-width="0.45" stroke-linejoin="round">M1-mutIL-18</text>
<line x1="169.5" y1="1653.8" x2="205.2" y2="1653.8" stroke="#9B62C4" stroke-width="3.1" stroke-linecap="butt"/>
<polygon points="179.15,1646.17 195.55,1646.17 187.35,1661.93" fill="#9B62C4" stroke="#9B62C4" stroke-width="1.6" stroke-linejoin="round"/>
<polygon points="184.07,1649.77 190.63,1649.77 187.35,1656.79" fill="#B287D3" opacity="0.8"/>
<text transform="translate(224.3 1646.9) scale(0.963 1)" font-size="29.09" text-anchor="start" stroke="#050505" stroke-width="0.45" stroke-linejoin="round">M1-mutIL-18</text>
<text transform="translate(225.2 1678.6) scale(0.963 1)" font-size="29.09" text-anchor="start" stroke="#050505" stroke-width="0.45" stroke-linejoin="round">+αNK1.1</text>
<polyline points="616.5,1606 623.3,1606 623.3,1669.6 616.5,1669.6" fill="none" stroke="#050505" stroke-width="3.7" stroke-linejoin="miter" stroke-linecap="butt"/>
<text transform="translate(636.7 1647.5) scale(0.963 1)" font-size="29.09" text-anchor="start" stroke="#050505" stroke-width="0.95" stroke-linejoin="round">0.0930</text>
</g>
<g id="cR">
<text transform="translate(1186 1385.7) scale(0.963 1)" font-size="27.3" text-anchor="middle" stroke="#050505" stroke-width="0.45" stroke-linejoin="round">B16F10 in rag1<tspan font-size="19.11" dy="-12.29" dx="0.6">-/-</tspan><tspan dy="12.29" dx="1.4"> mouse</tspan></text>
<text transform="translate(872 1598.3) rotate(-90) scale(0.915 1)" font-size="28.08" text-anchor="middle" stroke="#050505" stroke-width="0.45" stroke-linejoin="round">Percent survival</text>
<text transform="translate(1205.8 1833) scale(0.963 1)" font-size="27.3" text-anchor="middle" stroke="#050505" stroke-width="0.45" stroke-linejoin="round">Days after tumor inoculation</text>
<text transform="translate(934.8 1767.61) scale(0.963 1)" font-size="27.3" text-anchor="end" stroke="#050505" stroke-width="0.45" stroke-linejoin="round">0</text>
<text transform="translate(934.8 1623.11) scale(0.963 1)" font-size="27.3" text-anchor="end" stroke="#050505" stroke-width="0.45" stroke-linejoin="round">50</text>
<text transform="translate(934.8 1478.61) scale(0.963 1)" font-size="27.3" text-anchor="end" stroke="#050505" stroke-width="0.45" stroke-linejoin="round">100</text>
<text transform="translate(947.2 1796.2) scale(0.963 1)" font-size="27.3" text-anchor="middle" stroke="#050505" stroke-width="0.45" stroke-linejoin="round">0</text>
<text transform="translate(1106.5 1796.2) scale(0.963 1)" font-size="27.3" text-anchor="middle" stroke="#050505" stroke-width="0.45" stroke-linejoin="round">10</text>
<text transform="translate(1265.8 1796.2) scale(0.963 1)" font-size="27.3" text-anchor="middle" stroke="#050505" stroke-width="0.45" stroke-linejoin="round">20</text>
<text transform="translate(1425.1 1796.2) scale(0.963 1)" font-size="27.3" text-anchor="middle" stroke="#050505" stroke-width="0.45" stroke-linejoin="round">30</text>
<polyline points="1202.08,1470.4 1202.08,1643.8 1233.94,1643.8 1233.94,1701.6 1265.8,1701.6 1265.8,1759.4" fill="none" stroke="#C26A2A" stroke-width="2.8" stroke-linejoin="miter" stroke-linecap="butt"/>
<polyline points="1203.67,1470.4 1265.8,1470.4 1265.8,1528.2 1329.52,1528.2 1329.52,1586 1361.38,1586 1361.38,1759.4" fill="none" stroke="#4759B4" stroke-width="2.8" stroke-linejoin="miter" stroke-linecap="butt"/>
<polyline points="1203.67,1470.4 1233.94,1470.4 1233.94,1528.2 1265.8,1528.2 1265.8,1586 1297.66,1586 1297.66,1759.4" fill="none" stroke="#1E6A35" stroke-width="2.8" stroke-linejoin="miter" stroke-linecap="butt"/>
<rect x="1260.2" y="1579.4" width="10.5" height="6" fill="#9B62C4"/>
<rect x="1292.06" y="1695" width="10.5" height="6" fill="#9B62C4"/>
<rect x="1323.92" y="1752.8" width="10.5" height="6" fill="#9B62C4"/>
<polyline points="1202.08,1470.4 1265.8,1470.4 1265.8,1586" fill="none" stroke="#C9313B" stroke-width="3" stroke-linejoin="miter" stroke-linecap="butt"/>
<polyline points="1264.4,1586 1297.66,1586" fill="none" stroke="#B8322F" stroke-width="3" stroke-linejoin="miter" stroke-linecap="butt"/>
<polyline points="1297.66,1584.6 1297.66,1701.6" fill="none" stroke="#D2352F" stroke-width="3" stroke-linejoin="miter" stroke-linecap="butt"/>
<polyline points="1296.26,1701.6 1329.52,1701.6 1329.52,1759.4" fill="none" stroke="#E8442C" stroke-width="3" stroke-linejoin="miter" stroke-linecap="butt"/>
<polyline points="947.2,1470.4 1202.08,1470.4 1202.08,1528.2 1233.94,1528.2 1233.94,1759.4" fill="none" stroke="#050505" stroke-width="3.5" stroke-linejoin="miter" stroke-linecap="butt"/>
<line x1="947.7" y1="1439.25" x2="947.7" y2="1761.05" stroke="#050505" stroke-width="3.5" stroke-linecap="butt"/>
<line x1="938.6" y1="1759.4" x2="1426.8" y2="1759.4" stroke="#050505" stroke-width="3.3" stroke-linecap="butt"/>
<line x1="938.6" y1="1614.9" x2="947.7" y2="1614.9" stroke="#050505" stroke-width="3.3" stroke-linecap="butt"/>
<line x1="938.6" y1="1470.4" x2="947.7" y2="1470.4" stroke="#050505" stroke-width="3.3" stroke-linecap="butt"/>
<line x1="947.2" y1="1759.4" x2="947.2" y2="1770" stroke="#050505" stroke-width="3.3" stroke-linecap="butt"/>
<line x1="1106.5" y1="1759.4" x2="1106.5" y2="1770" stroke="#050505" stroke-width="3.3" stroke-linecap="butt"/>
<line x1="1265.8" y1="1759.4" x2="1265.8" y2="1770" stroke="#050505" stroke-width="3.3" stroke-linecap="butt"/>
<line x1="1425.1" y1="1759.4" x2="1425.1" y2="1770" stroke="#050505" stroke-width="3.3" stroke-linecap="butt"/>
<line x1="1401.5" y1="1468.6" x2="1435.4" y2="1468.6" stroke="#050505" stroke-width="3.5" stroke-linecap="butt"/>
<line x1="1418.45" y1="1468.6" x2="1418.45" y2="1461.35" stroke="#050505" stroke-width="2.8" stroke-linecap="butt"/>
<text transform="translate(1453.3 1476.5) scale(0.963 1)" font-size="27.3" text-anchor="start" stroke="#050505" stroke-width="0.45" stroke-linejoin="round">PBS</text>
<line x1="1401.5" y1="1511.9" x2="1435.4" y2="1511.9" stroke="#C26A2A" stroke-width="3" stroke-linecap="butt"/>
<line x1="1418.45" y1="1511.9" x2="1418.45" y2="1504.9" stroke="#C26A2A" stroke-width="2.8" stroke-linecap="butt"/>
<text transform="translate(1454.4 1520) scale(0.963 1)" font-size="27.3" text-anchor="start" stroke="#050505" stroke-width="0.45" stroke-linejoin="round">αNK1.1</text>
<line x1="1401.5" y1="1554.8" x2="1435.4" y2="1554.8" stroke="#E8442C" stroke-width="3" stroke-linecap="butt"/>
<line x1="1418.45" y1="1554.8" x2="1418.45" y2="1547.8" stroke="#E8442C" stroke-width="2.8" stroke-linecap="butt"/>
<text transform="translate(1453.3 1563.3) scale(0.963 1)" font-size="27.3" text-anchor="start" stroke="#050505" stroke-width="0.45" stroke-linejoin="round">M1</text>
<line x1="1401.5" y1="1597.8" x2="1435.4" y2="1597.8" stroke="#1E6A35" stroke-width="3" stroke-linecap="butt"/>
<line x1="1418.45" y1="1597.8" x2="1418.45" y2="1590.8" stroke="#1E6A35" stroke-width="2.8" stroke-linecap="butt"/>
<text transform="translate(1453.3 1606.2) scale(0.963 1)" font-size="27.3" text-anchor="start" stroke="#050505" stroke-width="0.45" stroke-linejoin="round">M1+αNK1.1</text>
<line x1="1401.5" y1="1640.5" x2="1435.4" y2="1640.5" stroke="#4759B4" stroke-width="3" stroke-linecap="butt"/>
<line x1="1418.45" y1="1640.5" x2="1418.45" y2="1633.5" stroke="#4759B4" stroke-width="2.8" stroke-linecap="butt"/>
<text transform="translate(1453.3 1649) scale(0.963 1)" font-size="27.3" text-anchor="start" stroke="#050505" stroke-width="0.45" stroke-linejoin="round">M1-mutIL-18</text>
<line x1="1401.5" y1="1683.2" x2="1435.4" y2="1683.2" stroke="#9B62C4" stroke-width="3" stroke-linecap="butt"/>
<rect x="1413" y="1677" width="10.6" height="6" fill="#9B62C4"/>
<text transform="translate(1453.3 1691.6) scale(0.963 1)" font-size="27.3" text-anchor="start" stroke="#050505" stroke-width="0.45" stroke-linejoin="round">M1-mutIL-18+αNK1.1</text>
<polyline points="1544.5,1461.9 1551.3,1461.9 1551.3,1506.7 1544.5,1506.7" fill="none" stroke="#050505" stroke-width="3.7" stroke-linejoin="miter" stroke-linecap="butt"/>
<text transform="translate(1562.6 1492.8) scale(0.963 1)" font-size="27.3" text-anchor="start" stroke="#050505" stroke-width="0.95" stroke-linejoin="round">0.7237</text>
<polyline points="1593.5,1548.8 1600.3,1548.8 1600.3,1593.7 1593.5,1593.7" fill="none" stroke="#050505" stroke-width="3.7" stroke-linejoin="miter" stroke-linecap="butt"/>
<text transform="translate(1610.7 1579.9) scale(0.963 1)" font-size="27.3" text-anchor="start" stroke="#050505" stroke-width="0.95" stroke-linejoin="round">0.5164</text>
<polyline points="1704.9,1643.8 1711.7,1643.8 1711.7,1687.7 1704.9,1687.7" fill="none" stroke="#050505" stroke-width="3.7" stroke-linejoin="miter" stroke-linecap="butt"/>
<text transform="translate(1720.8 1619.4) rotate(90) scale(0.915 1)" font-size="28.08" text-anchor="start" stroke="#050505" stroke-width="0.95" stroke-linejoin="round">0.0433</text>
<polyline points="1747.2,1598.6 1754,1598.6 1754,1686.2 1747.2,1686.2" fill="none" stroke="#050505" stroke-width="3.7" stroke-linejoin="miter" stroke-linecap="butt"/>
<text transform="translate(1766.8 1649.3) scale(0.963 1)" font-size="27.3" text-anchor="start" stroke="#050505" stroke-width="0.95" stroke-linejoin="round">0.5164</text>
</g>
<g id="dL">
<text transform="translate(409.3 2013.2) scale(0.963 1)" font-size="29.51" text-anchor="middle" stroke="#050505" stroke-width="0.45" stroke-linejoin="round">B16F10</text>
<text transform="translate(54.5 2233.7) rotate(-90) scale(0.915 1)" font-size="30.35" text-anchor="middle" stroke="#050505" stroke-width="0.45" stroke-linejoin="round">Tumor volume (mm<tspan font-size="21.24" dy="-13.66">3</tspan><tspan dy="13.66">)</tspan></text>
<text transform="translate(410 2489) scale(0.963 1)" font-size="29.51" text-anchor="middle" stroke="#050505" stroke-width="0.45" stroke-linejoin="round">Days after tumor inoculation</text>
<text transform="translate(136.5 2415.96) scale(0.963 1)" font-size="29.51" text-anchor="end" stroke="#050505" stroke-width="0.45" stroke-linejoin="round">0</text>
<text transform="translate(136.5 2300.66) scale(0.963 1)" font-size="29.51" text-anchor="end" stroke="#050505" stroke-width="0.45" stroke-linejoin="round">1000</text>
<text transform="translate(136.5 2185.36) scale(0.963 1)" font-size="29.51" text-anchor="end" stroke="#050505" stroke-width="0.45" stroke-linejoin="round">2000</text>
<text transform="translate(136.5 2070.06) scale(0.963 1)" font-size="29.51" text-anchor="end" stroke="#050505" stroke-width="0.45" stroke-linejoin="round">3000</text>
<text transform="translate(193.1 2445.9) scale(0.963 1)" font-size="29.51" text-anchor="middle" stroke="#050505" stroke-width="0.45" stroke-linejoin="round">7</text>
<text transform="translate(279.7 2445.9) scale(0.963 1)" font-size="29.51" text-anchor="middle" stroke="#050505" stroke-width="0.45" stroke-linejoin="round">9</text>
<text transform="translate(366.3 2445.9) scale(0.963 1)" font-size="29.51" text-anchor="middle" stroke="#050505" stroke-width="0.45" stroke-linejoin="round">11</text>
<text transform="translate(452.9 2445.9) scale(0.963 1)" font-size="29.51" text-anchor="middle" stroke="#050505" stroke-width="0.45" stroke-linejoin="round">13</text>
<text transform="translate(539.5 2445.9) scale(0.963 1)" font-size="29.51" text-anchor="middle" stroke="#050505" stroke-width="0.45" stroke-linejoin="round">15</text>
<text transform="translate(626.1 2445.9) scale(0.963 1)" font-size="29.51" text-anchor="middle" stroke="#050505" stroke-width="0.45" stroke-linejoin="round">17</text>
<line x1="279.7" y1="2387.3" x2="279.7" y2="2379.4" stroke="#E8442C" stroke-width="3.2" stroke-linecap="butt"/>
<line x1="272.9" y1="2379.4" x2="286.5" y2="2379.4" stroke="#E8442C" stroke-width="3.2" stroke-linecap="butt"/>
<line x1="366.3" y1="2371" x2="366.3" y2="2348.9" stroke="#E8442C" stroke-width="3.2" stroke-linecap="butt"/>
<line x1="359.5" y1="2348.9" x2="373.1" y2="2348.9" stroke="#E8442C" stroke-width="3.2" stroke-linecap="butt"/>
<line x1="452.9" y1="2350.4" x2="452.9" y2="2308.3" stroke="#E8442C" stroke-width="3.2" stroke-linecap="butt"/>
<line x1="446.1" y1="2308.3" x2="459.7" y2="2308.3" stroke="#E8442C" stroke-width="3.2" stroke-linecap="butt"/>
<line x1="539.5" y1="2305" x2="539.5" y2="2221.7" stroke="#E8442C" stroke-width="3.2" stroke-linecap="butt"/>
<line x1="532.7" y1="2221.7" x2="546.3" y2="2221.7" stroke="#E8442C" stroke-width="3.2" stroke-linecap="butt"/>
<line x1="626.1" y1="2243.8" x2="626.1" y2="2094" stroke="#E8442C" stroke-width="3.2" stroke-linecap="butt"/>
<line x1="619.3" y1="2094" x2="632.9" y2="2094" stroke="#E8442C" stroke-width="3.2" stroke-linecap="butt"/>
<polyline points="193.1,2400 279.7,2387.3 366.3,2371 452.9,2350.4 539.5,2305 626.1,2243.8" fill="none" stroke="#E8442C" stroke-width="3.4" stroke-linejoin="round" stroke-linecap="butt"/>
<polygon points="185.1,2392.26 201.1,2392.26 193.1,2407.62" fill="#E8442C" stroke="#E8442C" stroke-width="1.6" stroke-linejoin="round"/>
<polygon points="189.9,2395.78 196.3,2395.78 193.1,2402.65" fill="#EE7059" opacity="0.8"/>
<polygon points="271.7,2379.56 287.7,2379.56 279.7,2394.92" fill="#E8442C" stroke="#E8442C" stroke-width="1.6" stroke-linejoin="round"/>
<polygon points="276.5,2383.08 282.9,2383.08 279.7,2389.95" fill="#EE7059" opacity="0.8"/>
<polygon points="358.3,2363.26 374.3,2363.26 366.3,2378.62" fill="#E8442C" stroke="#E8442C" stroke-width="1.6" stroke-linejoin="round"/>
<polygon points="363.1,2366.78 369.5,2366.78 366.3,2373.65" fill="#EE7059" opacity="0.8"/>
<polygon points="444.9,2342.66 460.9,2342.66 452.9,2358.02" fill="#E8442C" stroke="#E8442C" stroke-width="1.6" stroke-linejoin="round"/>
<polygon points="449.7,2346.18 456.1,2346.18 452.9,2353.05" fill="#EE7059" opacity="0.8"/>
<polygon points="531.5,2297.26 547.5,2297.26 539.5,2312.62" fill="#E8442C" stroke="#E8442C" stroke-width="1.6" stroke-linejoin="round"/>
<polygon points="536.3,2300.78 542.7,2300.78 539.5,2307.65" fill="#EE7059" opacity="0.8"/>
<polygon points="618.1,2236.06 634.1,2236.06 626.1,2251.42" fill="#E8442C" stroke="#E8442C" stroke-width="1.6" stroke-linejoin="round"/>
<polygon points="622.9,2239.58 629.3,2239.58 626.1,2246.45" fill="#EE7059" opacity="0.8"/>
<line x1="366.3" y1="2383" x2="366.3" y2="2375" stroke="#4759B4" stroke-width="3.2" stroke-linecap="butt"/>
<line x1="359.5" y1="2375" x2="373.1" y2="2375" stroke="#4759B4" stroke-width="3.2" stroke-linecap="butt"/>
<line x1="452.9" y1="2376" x2="452.9" y2="2361.3" stroke="#4759B4" stroke-width="3.2" stroke-linecap="butt"/>
<line x1="446.1" y1="2361.3" x2="459.7" y2="2361.3" stroke="#4759B4" stroke-width="3.2" stroke-linecap="butt"/>
<line x1="539.5" y1="2372.3" x2="539.5" y2="2350.4" stroke="#4759B4" stroke-width="3.2" stroke-linecap="butt"/>
<line x1="532.7" y1="2350.4" x2="546.3" y2="2350.4" stroke="#4759B4" stroke-width="3.2" stroke-linecap="butt"/>
<line x1="626.1" y1="2367.8" x2="626.1" y2="2334.6" stroke="#4759B4" stroke-width="3.2" stroke-linecap="butt"/>
<line x1="619.3" y1="2334.6" x2="632.9" y2="2334.6" stroke="#4759B4" stroke-width="3.2" stroke-linecap="butt"/>
<polyline points="193.1,2400 279.7,2389.6 366.3,2383 452.9,2376 539.5,2372.3 626.1,2367.8" fill="none" stroke="#4759B4" stroke-width="3.4" stroke-linejoin="round" stroke-linecap="butt"/>
<polygon points="185.1,2392.26 201.1,2392.26 193.1,2407.62" fill="#4759B4" stroke="#4759B4" stroke-width="1.6" stroke-linejoin="round"/>
<polygon points="189.9,2395.78 196.3,2395.78 193.1,2402.65" fill="#6F80C8" opacity="0.8"/>
<polygon points="271.7,2381.86 287.7,2381.86 279.7,2397.22" fill="#4759B4" stroke="#4759B4" stroke-width="1.6" stroke-linejoin="round"/>
<polygon points="276.5,2385.38 282.9,2385.38 279.7,2392.25" fill="#6F80C8" opacity="0.8"/>
<polygon points="358.3,2375.26 374.3,2375.26 366.3,2390.62" fill="#4759B4" stroke="#4759B4" stroke-width="1.6" stroke-linejoin="round"/>
<polygon points="363.1,2378.78 369.5,2378.78 366.3,2385.65" fill="#6F80C8" opacity="0.8"/>
<polygon points="444.9,2368.26 460.9,2368.26 452.9,2383.62" fill="#4759B4" stroke="#4759B4" stroke-width="1.6" stroke-linejoin="round"/>
<polygon points="449.7,2371.78 456.1,2371.78 452.9,2378.65" fill="#6F80C8" opacity="0.8"/>
<polygon points="531.5,2364.56 547.5,2364.56 539.5,2379.92" fill="#4759B4" stroke="#4759B4" stroke-width="1.6" stroke-linejoin="round"/>
<polygon points="536.3,2368.08 542.7,2368.08 539.5,2374.95" fill="#6F80C8" opacity="0.8"/>
<polygon points="618.1,2360.06 634.1,2360.06 626.1,2375.42" fill="#4759B4" stroke="#4759B4" stroke-width="1.6" stroke-linejoin="round"/>
<polygon points="622.9,2363.58 629.3,2363.58 626.1,2370.45" fill="#6F80C8" opacity="0.8"/>
<line x1="366.3" y1="2372.2" x2="366.3" y2="2357.3" stroke="#7FD4D4" stroke-width="3.2" stroke-linecap="butt"/>
<line x1="359.5" y1="2357.3" x2="373.1" y2="2357.3" stroke="#7FD4D4" stroke-width="3.2" stroke-linecap="butt"/>
<line x1="452.9" y1="2344.9" x2="452.9" y2="2308.9" stroke="#7FD4D4" stroke-width="3.2" stroke-linecap="butt"/>
<line x1="446.1" y1="2308.9" x2="459.7" y2="2308.9" stroke="#7FD4D4" stroke-width="3.2" stroke-linecap="butt"/>
<line x1="539.5" y1="2280.1" x2="539.5" y2="2211.4" stroke="#7FD4D4" stroke-width="3.2" stroke-linecap="butt"/>
<line x1="532.7" y1="2211.4" x2="546.3" y2="2211.4" stroke="#7FD4D4" stroke-width="3.2" stroke-linecap="butt"/>
<line x1="626.1" y1="2190" x2="626.1" y2="2088.3" stroke="#7FD4D4" stroke-width="3.2" stroke-linecap="butt"/>
<line x1="619.3" y1="2088.3" x2="632.9" y2="2088.3" stroke="#7FD4D4" stroke-width="3.2" stroke-linecap="butt"/>
<polyline points="193.1,2400 279.7,2392.1 366.3,2372.2 452.9,2344.9 539.5,2280.1 626.1,2190" fill="none" stroke="#7FD4D4" stroke-width="3.4" stroke-linejoin="round" stroke-linecap="butt"/>
<polygon points="185.1,2392.26 201.1,2392.26 193.1,2407.62" fill="#7FD4D4" stroke="#7FD4D4" stroke-width="1.6" stroke-linejoin="round"/>
<polygon points="189.9,2395.78 196.3,2395.78 193.1,2402.65" fill="#A5E2E2" opacity="0.8"/>
<polygon points="271.7,2384.36 287.7,2384.36 279.7,2399.72" fill="#7FD4D4" stroke="#7FD4D4" stroke-width="1.6" stroke-linejoin="round"/>
<polygon points="276.5,2387.88 282.9,2387.88 279.7,2394.75" fill="#A5E2E2" opacity="0.8"/>
<polygon points="358.3,2364.46 374.3,2364.46 366.3,2379.82" fill="#7FD4D4" stroke="#7FD4D4" stroke-width="1.6" stroke-linejoin="round"/>
<polygon points="363.1,2367.98 369.5,2367.98 366.3,2374.85" fill="#A5E2E2" opacity="0.8"/>
<polygon points="444.9,2337.16 460.9,2337.16 452.9,2352.52" fill="#7FD4D4" stroke="#7FD4D4" stroke-width="1.6" stroke-linejoin="round"/>
<polygon points="449.7,2340.68 456.1,2340.68 452.9,2347.55" fill="#A5E2E2" opacity="0.8"/>
<polygon points="531.5,2272.36 547.5,2272.36 539.5,2287.72" fill="#7FD4D4" stroke="#7FD4D4" stroke-width="1.6" stroke-linejoin="round"/>
<polygon points="536.3,2275.88 542.7,2275.88 539.5,2282.75" fill="#A5E2E2" opacity="0.8"/>
<polygon points="618.1,2182.26 634.1,2182.26 626.1,2197.62" fill="#7FD4D4" stroke="#7FD4D4" stroke-width="1.6" stroke-linejoin="round"/>
<polygon points="622.9,2185.78 629.3,2185.78 626.1,2192.65" fill="#A5E2E2" opacity="0.8"/>
<line x1="366.3" y1="2385" x2="366.3" y2="2376" stroke="#050505" stroke-width="3.6" stroke-linecap="butt"/>
<line x1="359.5" y1="2376" x2="373.1" y2="2376" stroke="#050505" stroke-width="3.6" stroke-linecap="butt"/>
<line x1="452.9" y1="2370.8" x2="452.9" y2="2352.8" stroke="#050505" stroke-width="3.6" stroke-linecap="butt"/>
<line x1="446.1" y1="2352.8" x2="459.7" y2="2352.8" stroke="#050505" stroke-width="3.6" stroke-linecap="butt"/>
<line x1="539.5" y1="2341.3" x2="539.5" y2="2292.9" stroke="#050505" stroke-width="3.6" stroke-linecap="butt"/>
<line x1="532.7" y1="2292.9" x2="546.3" y2="2292.9" stroke="#050505" stroke-width="3.6" stroke-linecap="butt"/>
<line x1="626.1" y1="2299.2" x2="626.1" y2="2238.4" stroke="#050505" stroke-width="3.6" stroke-linecap="butt"/>
<line x1="619.3" y1="2238.4" x2="632.9" y2="2238.4" stroke="#050505" stroke-width="3.6" stroke-linecap="butt"/>
<polyline points="193.1,2400 279.7,2395.1 366.3,2385 452.9,2370.8 539.5,2341.3 626.1,2299.2" fill="none" stroke="#050505" stroke-width="3.8" stroke-linejoin="round" stroke-linecap="butt"/>
<polygon points="185.1,2392.26 201.1,2392.26 193.1,2407.62" fill="#050505" stroke="#050505" stroke-width="1.6" stroke-linejoin="round"/>
<polygon points="271.7,2387.36 287.7,2387.36 279.7,2402.72" fill="#050505" stroke="#050505" stroke-width="1.6" stroke-linejoin="round"/>
<polygon points="358.3,2377.26 374.3,2377.26 366.3,2392.62" fill="#050505" stroke="#050505" stroke-width="1.6" stroke-linejoin="round"/>
<polygon points="444.9,2363.06 460.9,2363.06 452.9,2378.42" fill="#050505" stroke="#050505" stroke-width="1.6" stroke-linejoin="round"/>
<polygon points="531.5,2333.56 547.5,2333.56 539.5,2348.92" fill="#050505" stroke="#050505" stroke-width="1.6" stroke-linejoin="round"/>
<polygon points="618.1,2291.46 634.1,2291.46 626.1,2306.82" fill="#050505" stroke="#050505" stroke-width="1.6" stroke-linejoin="round"/>
<line x1="150.4" y1="2059.85" x2="150.4" y2="2408.85" stroke="#050505" stroke-width="3.5" stroke-linecap="butt"/>
<line x1="140.7" y1="2407.2" x2="670.8" y2="2407.2" stroke="#050505" stroke-width="3.3" stroke-linecap="butt"/>
<line x1="140.7" y1="2291.4" x2="150.4" y2="2291.4" stroke="#050505" stroke-width="3.3" stroke-linecap="butt"/>
<line x1="140.7" y1="2176.1" x2="150.4" y2="2176.1" stroke="#050505" stroke-width="3.3" stroke-linecap="butt"/>
<line x1="140.7" y1="2060.8" x2="150.4" y2="2060.8" stroke="#050505" stroke-width="3.3" stroke-linecap="butt"/>
<line x1="193.1" y1="2407.2" x2="193.1" y2="2417.8" stroke="#050505" stroke-width="3.3" stroke-linecap="butt"/>
<line x1="279.7" y1="2407.2" x2="279.7" y2="2417.8" stroke="#050505" stroke-width="3.3" stroke-linecap="butt"/>
<line x1="366.3" y1="2407.2" x2="366.3" y2="2417.8" stroke="#050505" stroke-width="3.3" stroke-linecap="butt"/>
<line x1="452.9" y1="2407.2" x2="452.9" y2="2417.8" stroke="#050505" stroke-width="3.3" stroke-linecap="butt"/>
<line x1="539.5" y1="2407.2" x2="539.5" y2="2417.8" stroke="#050505" stroke-width="3.3" stroke-linecap="butt"/>
<line x1="626.1" y1="2407.2" x2="626.1" y2="2417.8" stroke="#050505" stroke-width="3.3" stroke-linecap="butt"/>
<line x1="181" y1="2067.7" x2="217.3" y2="2067.7" stroke="#050505" stroke-width="3.5" stroke-linecap="butt"/>
<polygon points="191.15,2060.26 207.15,2060.26 199.15,2075.62" fill="#050505" stroke="#050505" stroke-width="1.6" stroke-linejoin="round"/>
<text transform="translate(237 2076.8) scale(0.963 1)" font-size="29.51" text-anchor="start" stroke="#050505" stroke-width="0.45" stroke-linejoin="round">PBS</text>
<line x1="181" y1="2114" x2="217.3" y2="2114" stroke="#7FD4D4" stroke-width="3.1" stroke-linecap="butt"/>
<polygon points="191.15,2106.56 207.15,2106.56 199.15,2121.92" fill="#7FD4D4" stroke="#7FD4D4" stroke-width="1.6" stroke-linejoin="round"/>
<polygon points="195.95,2110.08 202.35,2110.08 199.15,2116.95" fill="#A5E2E2" opacity="0.8"/>
<text transform="translate(238.2 2122.8) scale(0.963 1)" font-size="29.51" text-anchor="start" stroke="#050505" stroke-width="0.45" stroke-linejoin="round">αIFN-γ</text>
<line x1="181" y1="2160.9" x2="217.3" y2="2160.9" stroke="#3D4FB2" stroke-width="3.1" stroke-linecap="butt"/>
<polygon points="191.15,2153.46 207.15,2153.46 199.15,2168.82" fill="#3D4FB2" stroke="#3D4FB2" stroke-width="1.6" stroke-linejoin="round"/>
<polygon points="195.95,2156.98 202.35,2156.98 199.15,2163.85" fill="#6F80C8" opacity="0.8"/>
<text transform="translate(237 2170) scale(0.963 1)" font-size="29.51" text-anchor="start" stroke="#050505" stroke-width="0.45" stroke-linejoin="round">M1-mutIL-18</text>
<line x1="181" y1="2223.6" x2="217.3" y2="2223.6" stroke="#E8442C" stroke-width="3.1" stroke-linecap="butt"/>
<polygon points="191.15,2216.16 207.15,2216.16 199.15,2231.52" fill="#E8442C" stroke="#E8442C" stroke-width="1.6" stroke-linejoin="round"/>
<polygon points="195.95,2219.68 202.35,2219.68 199.15,2226.55" fill="#EE7059" opacity="0.8"/>
<text transform="translate(237 2216) scale(0.963 1)" font-size="29.51" text-anchor="start" stroke="#050505" stroke-width="0.45" stroke-linejoin="round">M1-mutIL-18 +</text>
<text transform="translate(238.2 2249.2) scale(0.963 1)" font-size="29.51" text-anchor="start" stroke="#050505" stroke-width="0.45" stroke-linejoin="round">αIFN-γ</text>
<polyline points="642.8,2239.9 649.6,2239.9 649.6,2298.3 642.8,2298.3" fill="none" stroke="#050505" stroke-width="3.7" stroke-linejoin="miter" stroke-linecap="butt"/>
<polyline points="642.8,2300.4 649.6,2300.4 649.6,2366.4 642.8,2366.4" fill="none" stroke="#050505" stroke-width="3.7" stroke-linejoin="miter" stroke-linecap="butt"/>
<text transform="translate(663.1 2280.1) scale(0.963 1)" font-size="29.51" text-anchor="start" stroke="#050505" stroke-width="0.95" stroke-linejoin="round">0.4334</text>
<text transform="translate(664.6 2341.6) scale(0.963 1)" font-size="29.51" text-anchor="start" stroke="#050505" stroke-width="0.95" stroke-linejoin="round">0.0333</text>
</g>
<g id="dR">
<text transform="translate(1194.5 2028.7) scale(0.963 1)" font-size="28.14" text-anchor="middle" stroke="#050505" stroke-width="0.45" stroke-linejoin="round">B16F10</text>
<text transform="translate(873 2235.7) rotate(-90) scale(0.915 1)" font-size="28.94" text-anchor="middle" stroke="#050505" stroke-width="0.45" stroke-linejoin="round">Percent survival</text>
<text transform="translate(1194.3 2479.3) scale(0.963 1)" font-size="28.14" text-anchor="middle" stroke="#050505" stroke-width="0.45" stroke-linejoin="round">Days after tumor inoculation</text>
<text transform="translate(932.4 2411.69) scale(0.963 1)" font-size="28.14" text-anchor="end" stroke="#050505" stroke-width="0.45" stroke-linejoin="round">0</text>
<text transform="translate(932.4 2261.79) scale(0.963 1)" font-size="28.14" text-anchor="end" stroke="#050505" stroke-width="0.45" stroke-linejoin="round">50</text>
<text transform="translate(932.4 2111.89) scale(0.963 1)" font-size="28.14" text-anchor="end" stroke="#050505" stroke-width="0.45" stroke-linejoin="round">100</text>
<text transform="translate(945.8 2441.1) scale(0.963 1)" font-size="28.14" text-anchor="middle" stroke="#050505" stroke-width="0.45" stroke-linejoin="round">0</text>
<text transform="translate(1069.65 2441.1) scale(0.963 1)" font-size="28.14" text-anchor="middle" stroke="#050505" stroke-width="0.45" stroke-linejoin="round">10</text>
<text transform="translate(1193.5 2441.1) scale(0.963 1)" font-size="28.14" text-anchor="middle" stroke="#050505" stroke-width="0.45" stroke-linejoin="round">20</text>
<text transform="translate(1317.35 2441.1) scale(0.963 1)" font-size="28.14" text-anchor="middle" stroke="#050505" stroke-width="0.45" stroke-linejoin="round">30</text>
<text transform="translate(1441.2 2441.1) scale(0.963 1)" font-size="28.14" text-anchor="middle" stroke="#050505" stroke-width="0.45" stroke-linejoin="round">40</text>
<polyline points="1157.35,2203.43 1181.12,2203.43 1181.12,2253.4" fill="none" stroke="#E3343C" stroke-width="3" stroke-linejoin="miter" stroke-linecap="butt"/>
<polyline points="1181.12,2303.37 1205.88,2303.37" fill="none" stroke="#E3343C" stroke-width="3" stroke-linejoin="miter" stroke-linecap="butt"/>
<polyline points="1182.35,2103.5 1230.65,2103.5 1230.65,2153.47 1292.58,2153.47 1292.58,2253.4 1317.35,2253.4 1317.35,2353.33 1379.27,2353.33 1379.27,2403.3" fill="none" stroke="#3D4FB2" stroke-width="3" stroke-linejoin="miter" stroke-linecap="butt"/>
<polyline points="1131.58,2103.5 1131.58,2153.47 1156.35,2153.47 1156.35,2253.4 1181.12,2253.4 1181.12,2353.33 1205.88,2353.33 1205.88,2403.3" fill="none" stroke="#76D0C8" stroke-width="3" stroke-linejoin="miter" stroke-linecap="butt"/>
<polyline points="945.8,2103.5 1181.12,2103.5 1181.12,2153.47 1205.88,2153.47 1205.88,2303.37 1230.65,2303.37 1230.65,2353.33 1255.42,2353.33 1255.42,2403.3" fill="none" stroke="#050505" stroke-width="3.5" stroke-linejoin="miter" stroke-linecap="butt"/>
<line x1="946.2" y1="2071.75" x2="946.2" y2="2404.95" stroke="#050505" stroke-width="3.5" stroke-linecap="butt"/>
<line x1="936.5" y1="2403.3" x2="1442.9" y2="2403.3" stroke="#050505" stroke-width="3.3" stroke-linecap="butt"/>
<line x1="936.5" y1="2253.4" x2="946.2" y2="2253.4" stroke="#050505" stroke-width="3.3" stroke-linecap="butt"/>
<line x1="936.5" y1="2103.5" x2="946.2" y2="2103.5" stroke="#050505" stroke-width="3.3" stroke-linecap="butt"/>
<line x1="945.8" y1="2403.3" x2="945.8" y2="2413.9" stroke="#050505" stroke-width="3.3" stroke-linecap="butt"/>
<line x1="1069.65" y1="2403.3" x2="1069.65" y2="2413.9" stroke="#050505" stroke-width="3.3" stroke-linecap="butt"/>
<line x1="1193.5" y1="2403.3" x2="1193.5" y2="2413.9" stroke="#050505" stroke-width="3.3" stroke-linecap="butt"/>
<line x1="1317.35" y1="2403.3" x2="1317.35" y2="2413.9" stroke="#050505" stroke-width="3.3" stroke-linecap="butt"/>
<line x1="1441.2" y1="2403.3" x2="1441.2" y2="2413.9" stroke="#050505" stroke-width="3.3" stroke-linecap="butt"/>
<line x1="1348.8" y1="2106.8" x2="1384.3" y2="2106.8" stroke="#050505" stroke-width="3.5" stroke-linecap="butt"/>
<line x1="1366.55" y1="2106.8" x2="1366.55" y2="2099.55" stroke="#050505" stroke-width="2.8" stroke-linecap="butt"/>
<text transform="translate(1403.9 2115.6) scale(0.963 1)" font-size="28.42" text-anchor="start" stroke="#050505" stroke-width="0.45" stroke-linejoin="round">PBS</text>
<line x1="1348.8" y1="2148.2" x2="1384.3" y2="2148.2" stroke="#76D0C8" stroke-width="3" stroke-linecap="butt"/>
<line x1="1366.55" y1="2148.2" x2="1366.55" y2="2141.2" stroke="#76D0C8" stroke-width="2.8" stroke-linecap="butt"/>
<text transform="translate(1405 2156.7) scale(0.963 1)" font-size="28.42" text-anchor="start" stroke="#050505" stroke-width="0.45" stroke-linejoin="round">αIFN-γ</text>
<line x1="1348.8" y1="2188.8" x2="1384.3" y2="2188.8" stroke="#3D4FB2" stroke-width="3" stroke-linecap="butt"/>
<line x1="1366.55" y1="2188.8" x2="1366.55" y2="2181.8" stroke="#3D4FB2" stroke-width="2.8" stroke-linecap="butt"/>
<text transform="translate(1403.9 2197.3) scale(0.963 1)" font-size="28.42" text-anchor="start" stroke="#050505" stroke-width="0.45" stroke-linejoin="round">M1-mutIL-18</text>
<line x1="1348.8" y1="2224.7" x2="1384.3" y2="2224.7" stroke="#E3343C" stroke-width="3" stroke-linecap="butt"/>
<line x1="1366.55" y1="2224.7" x2="1366.55" y2="2217.7" stroke="#E3343C" stroke-width="2.8" stroke-linecap="butt"/>
<text transform="translate(1403.9 2233.6) scale(0.963 1)" font-size="28.42" text-anchor="start" stroke="#050505" stroke-width="0.45" stroke-linejoin="round">M1-mutIL-18 + αIFN-γ</text>
<polyline points="1571.1,2099.8 1577.9,2099.8 1577.9,2187 1571.1,2187" fill="none" stroke="#050505" stroke-width="3.7" stroke-linejoin="miter" stroke-linecap="butt"/>
<text transform="translate(1591 2154.3) scale(0.963 1)" font-size="28.14" text-anchor="start" stroke="#050505" stroke-width="0.95" stroke-linejoin="round">0.0024</text>
<polyline points="1684.6,2190.6 1691.4,2190.6 1691.4,2230.9 1684.6,2230.9" fill="none" stroke="#050505" stroke-width="3.7" stroke-linejoin="miter" stroke-linecap="butt"/>
<text transform="translate(1702.6 2171.6) rotate(90) scale(0.915 1)" font-size="28.94" text-anchor="start" stroke="#050505" stroke-width="0.95" stroke-linejoin="round">0.0024</text>
<polyline points="1731.5,2095.9 1738.3,2095.9 1738.3,2226.9 1731.5,2226.9" fill="none" stroke="#050505" stroke-width="3.7" stroke-linejoin="miter" stroke-linecap="butt"/>
<text transform="translate(1749.9 2172.5) scale(0.963 1)" font-size="28.14" text-anchor="start" stroke="#050505" stroke-width="0.95" stroke-linejoin="round">0.4613</text>
</g>
</svg>
</body>
</html>
